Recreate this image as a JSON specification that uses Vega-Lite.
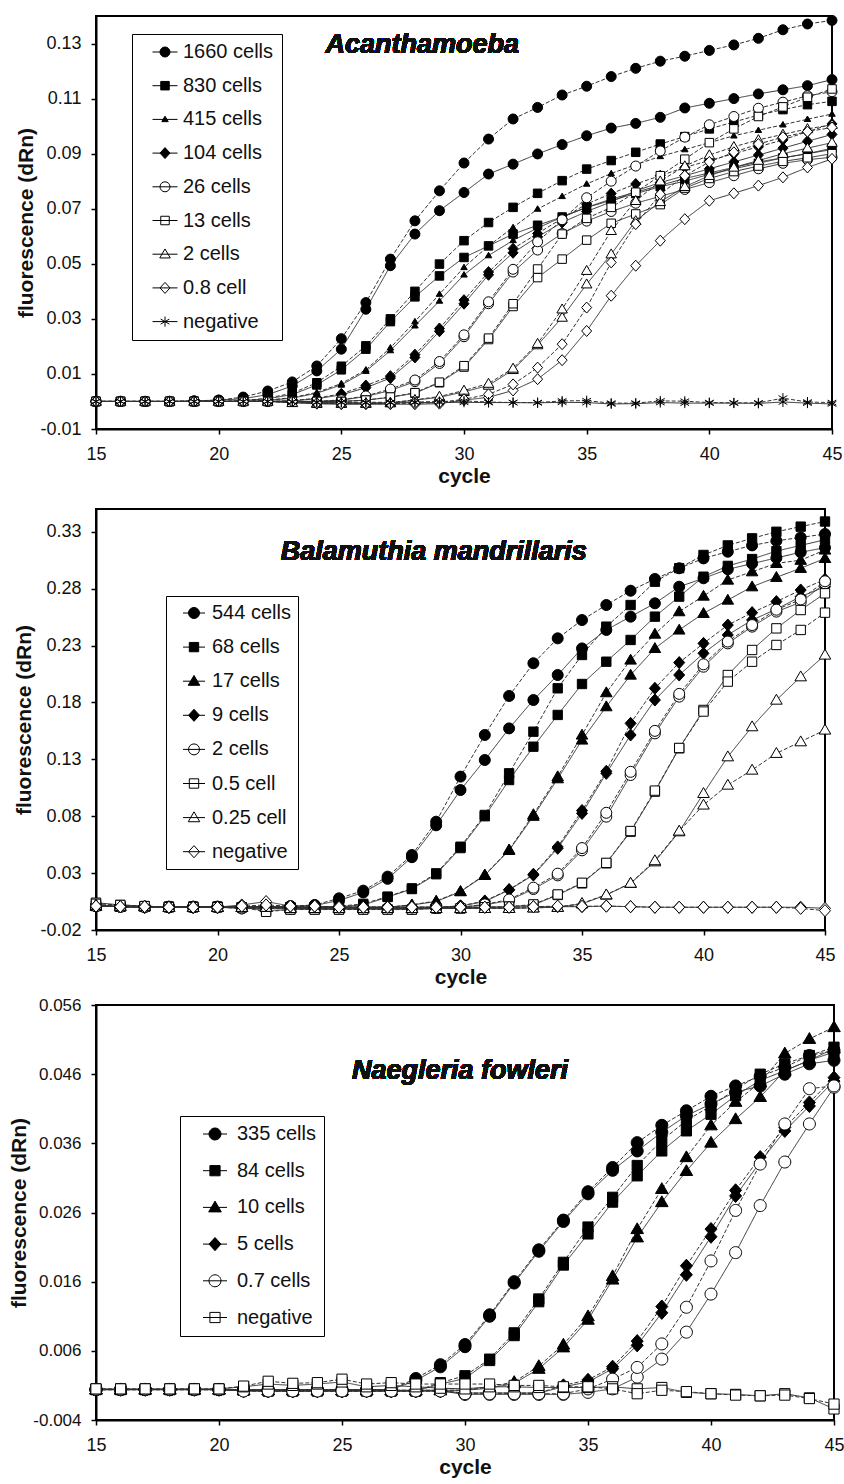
{
"$schema":"https://vega.github.io/schema/vega-lite/v6.json",
"background":"white",
"padding":{"left":7,"top":12,"right":0,"bottom":0},
"columns":1,
"align":"none",
"spacing":21,
"config":{
"font":"Liberation Sans",
"view":{"stroke":"black","strokeWidth":2},
"axis":{"grid":false,"domainColor":"black","domainWidth":2,"tickColor":"black","tickWidth":1.5,"tickSize":5,"labelFontSize":18,"labelColor":"#111","labelFont":"Liberation Sans","titleFont":"Liberation Sans","titleFontSize":21,"titleFontWeight":"bold","titleColor":"#111","labelFlush":false,"labelOverlap":false},
"axisX":{"labelPadding":11,"titlePadding":2},
"axisY":{"labelPadding":10,"titlePadding":3}
},
"resolve":{"scale":{"shape":"independent","fill":"independent","size":"independent"},"legend":{"shape":"independent","fill":"independent","size":"independent"}},
"datasets":{
"acanthamoeba":[
{"cells":"1660 cells","run":"A","cycle":15,"dRn":0},{"cells":"1660 cells","run":"A","cycle":16,"dRn":0},{"cells":"1660 cells","run":"A","cycle":17,"dRn":0},{"cells":"1660 cells","run":"A","cycle":18,"dRn":0},{"cells":"1660 cells","run":"A","cycle":19,"dRn":0.0002},{"cells":"1660 cells","run":"A","cycle":20,"dRn":0.0005},{"cells":"1660 cells","run":"A","cycle":21,"dRn":0.001},{"cells":"1660 cells","run":"A","cycle":22,"dRn":0.0025},{"cells":"1660 cells","run":"A","cycle":23,"dRn":0.0056},{"cells":"1660 cells","run":"A","cycle":24,"dRn":0.0111},{"cells":"1660 cells","run":"A","cycle":25,"dRn":0.019},{"cells":"1660 cells","run":"A","cycle":26,"dRn":0.0335},{"cells":"1660 cells","run":"A","cycle":27,"dRn":0.0493},{"cells":"1660 cells","run":"A","cycle":28,"dRn":0.0608},{"cells":"1660 cells","run":"A","cycle":29,"dRn":0.0693},{"cells":"1660 cells","run":"A","cycle":30,"dRn":0.0759},{"cells":"1660 cells","run":"A","cycle":31,"dRn":0.0826},{"cells":"1660 cells","run":"A","cycle":32,"dRn":0.0862},{"cells":"1660 cells","run":"A","cycle":33,"dRn":0.0899},{"cells":"1660 cells","run":"A","cycle":34,"dRn":0.0933},{"cells":"1660 cells","run":"A","cycle":35,"dRn":0.0965},{"cells":"1660 cells","run":"A","cycle":36,"dRn":0.0993},{"cells":"1660 cells","run":"A","cycle":37,"dRn":0.101},{"cells":"1660 cells","run":"A","cycle":38,"dRn":0.1032},{"cells":"1660 cells","run":"A","cycle":39,"dRn":0.1066},{"cells":"1660 cells","run":"A","cycle":40,"dRn":0.1083},{"cells":"1660 cells","run":"A","cycle":41,"dRn":0.11},{"cells":"1660 cells","run":"A","cycle":42,"dRn":0.1117},{"cells":"1660 cells","run":"A","cycle":43,"dRn":0.1132},{"cells":"1660 cells","run":"A","cycle":44,"dRn":0.1147},{"cells":"1660 cells","run":"A","cycle":45,"dRn":0.1169},
{"cells":"1660 cells","run":"B","cycle":15,"dRn":0},{"cells":"1660 cells","run":"B","cycle":16,"dRn":0},{"cells":"1660 cells","run":"B","cycle":17,"dRn":0},{"cells":"1660 cells","run":"B","cycle":18,"dRn":0},{"cells":"1660 cells","run":"B","cycle":19,"dRn":0.0002},{"cells":"1660 cells","run":"B","cycle":20,"dRn":0.0005},{"cells":"1660 cells","run":"B","cycle":21,"dRn":0.0016},{"cells":"1660 cells","run":"B","cycle":22,"dRn":0.0038},{"cells":"1660 cells","run":"B","cycle":23,"dRn":0.0071},{"cells":"1660 cells","run":"B","cycle":24,"dRn":0.0129},{"cells":"1660 cells","run":"B","cycle":25,"dRn":0.0228},{"cells":"1660 cells","run":"B","cycle":26,"dRn":0.0359},{"cells":"1660 cells","run":"B","cycle":27,"dRn":0.0517},{"cells":"1660 cells","run":"B","cycle":28,"dRn":0.0656},{"cells":"1660 cells","run":"B","cycle":29,"dRn":0.0765},{"cells":"1660 cells","run":"B","cycle":30,"dRn":0.0866},{"cells":"1660 cells","run":"B","cycle":31,"dRn":0.0953},{"cells":"1660 cells","run":"B","cycle":32,"dRn":0.1026},{"cells":"1660 cells","run":"B","cycle":33,"dRn":0.1068},{"cells":"1660 cells","run":"B","cycle":34,"dRn":0.1113},{"cells":"1660 cells","run":"B","cycle":35,"dRn":0.1145},{"cells":"1660 cells","run":"B","cycle":36,"dRn":0.118},{"cells":"1660 cells","run":"B","cycle":37,"dRn":0.121},{"cells":"1660 cells","run":"B","cycle":38,"dRn":0.1236},{"cells":"1660 cells","run":"B","cycle":39,"dRn":0.1254},{"cells":"1660 cells","run":"B","cycle":40,"dRn":0.1275},{"cells":"1660 cells","run":"B","cycle":41,"dRn":0.1295},{"cells":"1660 cells","run":"B","cycle":42,"dRn":0.1319},{"cells":"1660 cells","run":"B","cycle":43,"dRn":0.135},{"cells":"1660 cells","run":"B","cycle":44,"dRn":0.1371},{"cells":"1660 cells","run":"B","cycle":45,"dRn":0.1384},
{"cells":"830 cells","run":"A","cycle":15,"dRn":0},{"cells":"830 cells","run":"A","cycle":16,"dRn":0},{"cells":"830 cells","run":"A","cycle":17,"dRn":0},{"cells":"830 cells","run":"A","cycle":18,"dRn":0},{"cells":"830 cells","run":"A","cycle":19,"dRn":0},{"cells":"830 cells","run":"A","cycle":20,"dRn":0},{"cells":"830 cells","run":"A","cycle":21,"dRn":0.0003},{"cells":"830 cells","run":"A","cycle":22,"dRn":0.001},{"cells":"830 cells","run":"A","cycle":23,"dRn":0.0025},{"cells":"830 cells","run":"A","cycle":24,"dRn":0.006},{"cells":"830 cells","run":"A","cycle":25,"dRn":0.0115},{"cells":"830 cells","run":"A","cycle":26,"dRn":0.019},{"cells":"830 cells","run":"A","cycle":27,"dRn":0.029},{"cells":"830 cells","run":"A","cycle":28,"dRn":0.038},{"cells":"830 cells","run":"A","cycle":29,"dRn":0.0456},{"cells":"830 cells","run":"A","cycle":30,"dRn":0.0523},{"cells":"830 cells","run":"A","cycle":31,"dRn":0.0565},{"cells":"830 cells","run":"A","cycle":32,"dRn":0.0608},{"cells":"830 cells","run":"A","cycle":33,"dRn":0.064},{"cells":"830 cells","run":"A","cycle":34,"dRn":0.067},{"cells":"830 cells","run":"A","cycle":35,"dRn":0.0705},{"cells":"830 cells","run":"A","cycle":36,"dRn":0.073},{"cells":"830 cells","run":"A","cycle":37,"dRn":0.0755},{"cells":"830 cells","run":"A","cycle":38,"dRn":0.078},{"cells":"830 cells","run":"A","cycle":39,"dRn":0.08},{"cells":"830 cells","run":"A","cycle":40,"dRn":0.0825},{"cells":"830 cells","run":"A","cycle":41,"dRn":0.0845},{"cells":"830 cells","run":"A","cycle":42,"dRn":0.0865},{"cells":"830 cells","run":"A","cycle":43,"dRn":0.0885},{"cells":"830 cells","run":"A","cycle":44,"dRn":0.09},{"cells":"830 cells","run":"A","cycle":45,"dRn":0.092},
{"cells":"830 cells","run":"B","cycle":15,"dRn":0},{"cells":"830 cells","run":"B","cycle":16,"dRn":0},{"cells":"830 cells","run":"B","cycle":17,"dRn":0},{"cells":"830 cells","run":"B","cycle":18,"dRn":0},{"cells":"830 cells","run":"B","cycle":19,"dRn":0},{"cells":"830 cells","run":"B","cycle":20,"dRn":0},{"cells":"830 cells","run":"B","cycle":21,"dRn":0.0003},{"cells":"830 cells","run":"B","cycle":22,"dRn":0.0012},{"cells":"830 cells","run":"B","cycle":23,"dRn":0.003},{"cells":"830 cells","run":"B","cycle":24,"dRn":0.0068},{"cells":"830 cells","run":"B","cycle":25,"dRn":0.0128},{"cells":"830 cells","run":"B","cycle":26,"dRn":0.0202},{"cells":"830 cells","run":"B","cycle":27,"dRn":0.03},{"cells":"830 cells","run":"B","cycle":28,"dRn":0.04},{"cells":"830 cells","run":"B","cycle":29,"dRn":0.0499},{"cells":"830 cells","run":"B","cycle":30,"dRn":0.0584},{"cells":"830 cells","run":"B","cycle":31,"dRn":0.065},{"cells":"830 cells","run":"B","cycle":32,"dRn":0.0705},{"cells":"830 cells","run":"B","cycle":33,"dRn":0.0756},{"cells":"830 cells","run":"B","cycle":34,"dRn":0.0802},{"cells":"830 cells","run":"B","cycle":35,"dRn":0.0844},{"cells":"830 cells","run":"B","cycle":36,"dRn":0.0875},{"cells":"830 cells","run":"B","cycle":37,"dRn":0.0905},{"cells":"830 cells","run":"B","cycle":38,"dRn":0.0935},{"cells":"830 cells","run":"B","cycle":39,"dRn":0.0962},{"cells":"830 cells","run":"B","cycle":40,"dRn":0.099},{"cells":"830 cells","run":"B","cycle":41,"dRn":0.1015},{"cells":"830 cells","run":"B","cycle":42,"dRn":0.104},{"cells":"830 cells","run":"B","cycle":43,"dRn":0.106},{"cells":"830 cells","run":"B","cycle":44,"dRn":0.1078},{"cells":"830 cells","run":"B","cycle":45,"dRn":0.109},
{"cells":"415 cells","run":"A","cycle":15,"dRn":0},{"cells":"415 cells","run":"A","cycle":16,"dRn":0},{"cells":"415 cells","run":"A","cycle":17,"dRn":0},{"cells":"415 cells","run":"A","cycle":18,"dRn":0},{"cells":"415 cells","run":"A","cycle":19,"dRn":0},{"cells":"415 cells","run":"A","cycle":20,"dRn":0},{"cells":"415 cells","run":"A","cycle":21,"dRn":0},{"cells":"415 cells","run":"A","cycle":22,"dRn":0.0004},{"cells":"415 cells","run":"A","cycle":23,"dRn":0.0012},{"cells":"415 cells","run":"A","cycle":24,"dRn":0.003},{"cells":"415 cells","run":"A","cycle":25,"dRn":0.006},{"cells":"415 cells","run":"A","cycle":26,"dRn":0.011},{"cells":"415 cells","run":"A","cycle":27,"dRn":0.0185},{"cells":"415 cells","run":"A","cycle":28,"dRn":0.0275},{"cells":"415 cells","run":"A","cycle":29,"dRn":0.0365},{"cells":"415 cells","run":"A","cycle":30,"dRn":0.046},{"cells":"415 cells","run":"A","cycle":31,"dRn":0.053},{"cells":"415 cells","run":"A","cycle":32,"dRn":0.0585},{"cells":"415 cells","run":"A","cycle":33,"dRn":0.063},{"cells":"415 cells","run":"A","cycle":34,"dRn":0.067},{"cells":"415 cells","run":"A","cycle":35,"dRn":0.0705},{"cells":"415 cells","run":"A","cycle":36,"dRn":0.0735},{"cells":"415 cells","run":"A","cycle":37,"dRn":0.076},{"cells":"415 cells","run":"A","cycle":38,"dRn":0.0785},{"cells":"415 cells","run":"A","cycle":39,"dRn":0.081},{"cells":"415 cells","run":"A","cycle":40,"dRn":0.083},{"cells":"415 cells","run":"A","cycle":41,"dRn":0.085},{"cells":"415 cells","run":"A","cycle":42,"dRn":0.087},{"cells":"415 cells","run":"A","cycle":43,"dRn":0.0885},{"cells":"415 cells","run":"A","cycle":44,"dRn":0.09},{"cells":"415 cells","run":"A","cycle":45,"dRn":0.0915},
{"cells":"415 cells","run":"B","cycle":15,"dRn":0},{"cells":"415 cells","run":"B","cycle":16,"dRn":0},{"cells":"415 cells","run":"B","cycle":17,"dRn":0},{"cells":"415 cells","run":"B","cycle":18,"dRn":0},{"cells":"415 cells","run":"B","cycle":19,"dRn":0},{"cells":"415 cells","run":"B","cycle":20,"dRn":0},{"cells":"415 cells","run":"B","cycle":21,"dRn":0},{"cells":"415 cells","run":"B","cycle":22,"dRn":0.0005},{"cells":"415 cells","run":"B","cycle":23,"dRn":0.0014},{"cells":"415 cells","run":"B","cycle":24,"dRn":0.0033},{"cells":"415 cells","run":"B","cycle":25,"dRn":0.0065},{"cells":"415 cells","run":"B","cycle":26,"dRn":0.0115},{"cells":"415 cells","run":"B","cycle":27,"dRn":0.0195},{"cells":"415 cells","run":"B","cycle":28,"dRn":0.029},{"cells":"415 cells","run":"B","cycle":29,"dRn":0.039},{"cells":"415 cells","run":"B","cycle":30,"dRn":0.0487},{"cells":"415 cells","run":"B","cycle":31,"dRn":0.0565},{"cells":"415 cells","run":"B","cycle":32,"dRn":0.0632},{"cells":"415 cells","run":"B","cycle":33,"dRn":0.0699},{"cells":"415 cells","run":"B","cycle":34,"dRn":0.0745},{"cells":"415 cells","run":"B","cycle":35,"dRn":0.079},{"cells":"415 cells","run":"B","cycle":36,"dRn":0.0828},{"cells":"415 cells","run":"B","cycle":37,"dRn":0.086},{"cells":"415 cells","run":"B","cycle":38,"dRn":0.089},{"cells":"415 cells","run":"B","cycle":39,"dRn":0.0915},{"cells":"415 cells","run":"B","cycle":40,"dRn":0.094},{"cells":"415 cells","run":"B","cycle":41,"dRn":0.0965},{"cells":"415 cells","run":"B","cycle":42,"dRn":0.0985},{"cells":"415 cells","run":"B","cycle":43,"dRn":0.1005},{"cells":"415 cells","run":"B","cycle":44,"dRn":0.1025},{"cells":"415 cells","run":"B","cycle":45,"dRn":0.1044},
{"cells":"104 cells","run":"A","cycle":15,"dRn":0},{"cells":"104 cells","run":"A","cycle":16,"dRn":0},{"cells":"104 cells","run":"A","cycle":17,"dRn":0},{"cells":"104 cells","run":"A","cycle":18,"dRn":0},{"cells":"104 cells","run":"A","cycle":19,"dRn":0},{"cells":"104 cells","run":"A","cycle":20,"dRn":0},{"cells":"104 cells","run":"A","cycle":21,"dRn":0},{"cells":"104 cells","run":"A","cycle":22,"dRn":0},{"cells":"104 cells","run":"A","cycle":23,"dRn":0.0002},{"cells":"104 cells","run":"A","cycle":24,"dRn":0.001},{"cells":"104 cells","run":"A","cycle":25,"dRn":0.0024},{"cells":"104 cells","run":"A","cycle":26,"dRn":0.005},{"cells":"104 cells","run":"A","cycle":27,"dRn":0.0085},{"cells":"104 cells","run":"A","cycle":28,"dRn":0.016},{"cells":"104 cells","run":"A","cycle":29,"dRn":0.0255},{"cells":"104 cells","run":"A","cycle":30,"dRn":0.0355},{"cells":"104 cells","run":"A","cycle":31,"dRn":0.046},{"cells":"104 cells","run":"A","cycle":32,"dRn":0.054},{"cells":"104 cells","run":"A","cycle":33,"dRn":0.0598},{"cells":"104 cells","run":"A","cycle":34,"dRn":0.065},{"cells":"104 cells","run":"A","cycle":35,"dRn":0.069},{"cells":"104 cells","run":"A","cycle":36,"dRn":0.0725},{"cells":"104 cells","run":"A","cycle":37,"dRn":0.0765},{"cells":"104 cells","run":"A","cycle":38,"dRn":0.0795},{"cells":"104 cells","run":"A","cycle":39,"dRn":0.082},{"cells":"104 cells","run":"A","cycle":40,"dRn":0.0845},{"cells":"104 cells","run":"A","cycle":41,"dRn":0.087},{"cells":"104 cells","run":"A","cycle":42,"dRn":0.0895},{"cells":"104 cells","run":"A","cycle":43,"dRn":0.092},{"cells":"104 cells","run":"A","cycle":44,"dRn":0.0945},{"cells":"104 cells","run":"A","cycle":45,"dRn":0.097},
{"cells":"104 cells","run":"B","cycle":15,"dRn":0},{"cells":"104 cells","run":"B","cycle":16,"dRn":0},{"cells":"104 cells","run":"B","cycle":17,"dRn":0},{"cells":"104 cells","run":"B","cycle":18,"dRn":0},{"cells":"104 cells","run":"B","cycle":19,"dRn":0},{"cells":"104 cells","run":"B","cycle":20,"dRn":0},{"cells":"104 cells","run":"B","cycle":21,"dRn":0},{"cells":"104 cells","run":"B","cycle":22,"dRn":0},{"cells":"104 cells","run":"B","cycle":23,"dRn":0.0003},{"cells":"104 cells","run":"B","cycle":24,"dRn":0.0012},{"cells":"104 cells","run":"B","cycle":25,"dRn":0.0028},{"cells":"104 cells","run":"B","cycle":26,"dRn":0.0058},{"cells":"104 cells","run":"B","cycle":27,"dRn":0.0092},{"cells":"104 cells","run":"B","cycle":28,"dRn":0.017},{"cells":"104 cells","run":"B","cycle":29,"dRn":0.0265},{"cells":"104 cells","run":"B","cycle":30,"dRn":0.0368},{"cells":"104 cells","run":"B","cycle":31,"dRn":0.047},{"cells":"104 cells","run":"B","cycle":32,"dRn":0.0555},{"cells":"104 cells","run":"B","cycle":33,"dRn":0.061},{"cells":"104 cells","run":"B","cycle":34,"dRn":0.0665},{"cells":"104 cells","run":"B","cycle":35,"dRn":0.0717},{"cells":"104 cells","run":"B","cycle":36,"dRn":0.0755},{"cells":"104 cells","run":"B","cycle":37,"dRn":0.079},{"cells":"104 cells","run":"B","cycle":38,"dRn":0.082},{"cells":"104 cells","run":"B","cycle":39,"dRn":0.085},{"cells":"104 cells","run":"B","cycle":40,"dRn":0.0875},{"cells":"104 cells","run":"B","cycle":41,"dRn":0.09},{"cells":"104 cells","run":"B","cycle":42,"dRn":0.0925},{"cells":"104 cells","run":"B","cycle":43,"dRn":0.095},{"cells":"104 cells","run":"B","cycle":44,"dRn":0.098},{"cells":"104 cells","run":"B","cycle":45,"dRn":0.1008},
{"cells":"26 cells","run":"A","cycle":15,"dRn":0},{"cells":"26 cells","run":"A","cycle":16,"dRn":0},{"cells":"26 cells","run":"A","cycle":17,"dRn":0},{"cells":"26 cells","run":"A","cycle":18,"dRn":0},{"cells":"26 cells","run":"A","cycle":19,"dRn":0},{"cells":"26 cells","run":"A","cycle":20,"dRn":0},{"cells":"26 cells","run":"A","cycle":21,"dRn":0},{"cells":"26 cells","run":"A","cycle":22,"dRn":0},{"cells":"26 cells","run":"A","cycle":23,"dRn":0},{"cells":"26 cells","run":"A","cycle":24,"dRn":0},{"cells":"26 cells","run":"A","cycle":25,"dRn":0.0005},{"cells":"26 cells","run":"A","cycle":26,"dRn":0.0018},{"cells":"26 cells","run":"A","cycle":27,"dRn":0.004},{"cells":"26 cells","run":"A","cycle":28,"dRn":0.0072},{"cells":"26 cells","run":"A","cycle":29,"dRn":0.0138},{"cells":"26 cells","run":"A","cycle":30,"dRn":0.0235},{"cells":"26 cells","run":"A","cycle":31,"dRn":0.0355},{"cells":"26 cells","run":"A","cycle":32,"dRn":0.047},{"cells":"26 cells","run":"A","cycle":33,"dRn":0.055},{"cells":"26 cells","run":"A","cycle":34,"dRn":0.061},{"cells":"26 cells","run":"A","cycle":35,"dRn":0.0655},{"cells":"26 cells","run":"A","cycle":36,"dRn":0.069},{"cells":"26 cells","run":"A","cycle":37,"dRn":0.072},{"cells":"26 cells","run":"A","cycle":38,"dRn":0.0745},{"cells":"26 cells","run":"A","cycle":39,"dRn":0.077},{"cells":"26 cells","run":"A","cycle":40,"dRn":0.0795},{"cells":"26 cells","run":"A","cycle":41,"dRn":0.082},{"cells":"26 cells","run":"A","cycle":42,"dRn":0.0845},{"cells":"26 cells","run":"A","cycle":43,"dRn":0.0865},{"cells":"26 cells","run":"A","cycle":44,"dRn":0.0878},{"cells":"26 cells","run":"A","cycle":45,"dRn":0.0887},
{"cells":"26 cells","run":"B","cycle":15,"dRn":0},{"cells":"26 cells","run":"B","cycle":16,"dRn":0},{"cells":"26 cells","run":"B","cycle":17,"dRn":0},{"cells":"26 cells","run":"B","cycle":18,"dRn":0},{"cells":"26 cells","run":"B","cycle":19,"dRn":0},{"cells":"26 cells","run":"B","cycle":20,"dRn":0},{"cells":"26 cells","run":"B","cycle":21,"dRn":0},{"cells":"26 cells","run":"B","cycle":22,"dRn":0},{"cells":"26 cells","run":"B","cycle":23,"dRn":0},{"cells":"26 cells","run":"B","cycle":24,"dRn":0},{"cells":"26 cells","run":"B","cycle":25,"dRn":0.0006},{"cells":"26 cells","run":"B","cycle":26,"dRn":0.002},{"cells":"26 cells","run":"B","cycle":27,"dRn":0.0045},{"cells":"26 cells","run":"B","cycle":28,"dRn":0.0078},{"cells":"26 cells","run":"B","cycle":29,"dRn":0.0145},{"cells":"26 cells","run":"B","cycle":30,"dRn":0.0242},{"cells":"26 cells","run":"B","cycle":31,"dRn":0.0362},{"cells":"26 cells","run":"B","cycle":32,"dRn":0.048},{"cells":"26 cells","run":"B","cycle":33,"dRn":0.058},{"cells":"26 cells","run":"B","cycle":34,"dRn":0.066},{"cells":"26 cells","run":"B","cycle":35,"dRn":0.074},{"cells":"26 cells","run":"B","cycle":36,"dRn":0.08},{"cells":"26 cells","run":"B","cycle":37,"dRn":0.0855},{"cells":"26 cells","run":"B","cycle":38,"dRn":0.091},{"cells":"26 cells","run":"B","cycle":39,"dRn":0.096},{"cells":"26 cells","run":"B","cycle":40,"dRn":0.1005},{"cells":"26 cells","run":"B","cycle":41,"dRn":0.1035},{"cells":"26 cells","run":"B","cycle":42,"dRn":0.1065},{"cells":"26 cells","run":"B","cycle":43,"dRn":0.1087},{"cells":"26 cells","run":"B","cycle":44,"dRn":0.111},{"cells":"26 cells","run":"B","cycle":45,"dRn":0.1125},
{"cells":"13 cells","run":"A","cycle":15,"dRn":0},{"cells":"13 cells","run":"A","cycle":16,"dRn":0},{"cells":"13 cells","run":"A","cycle":17,"dRn":0},{"cells":"13 cells","run":"A","cycle":18,"dRn":0},{"cells":"13 cells","run":"A","cycle":19,"dRn":0},{"cells":"13 cells","run":"A","cycle":20,"dRn":0},{"cells":"13 cells","run":"A","cycle":21,"dRn":0},{"cells":"13 cells","run":"A","cycle":22,"dRn":0},{"cells":"13 cells","run":"A","cycle":23,"dRn":0},{"cells":"13 cells","run":"A","cycle":24,"dRn":0},{"cells":"13 cells","run":"A","cycle":25,"dRn":0},{"cells":"13 cells","run":"A","cycle":26,"dRn":0.0005},{"cells":"13 cells","run":"A","cycle":27,"dRn":0.0015},{"cells":"13 cells","run":"A","cycle":28,"dRn":0.003},{"cells":"13 cells","run":"A","cycle":29,"dRn":0.0068},{"cells":"13 cells","run":"A","cycle":30,"dRn":0.0125},{"cells":"13 cells","run":"A","cycle":31,"dRn":0.0225},{"cells":"13 cells","run":"A","cycle":32,"dRn":0.0345},{"cells":"13 cells","run":"A","cycle":33,"dRn":0.045},{"cells":"13 cells","run":"A","cycle":34,"dRn":0.0517},{"cells":"13 cells","run":"A","cycle":35,"dRn":0.0586},{"cells":"13 cells","run":"A","cycle":36,"dRn":0.0647},{"cells":"13 cells","run":"A","cycle":37,"dRn":0.0681},{"cells":"13 cells","run":"A","cycle":38,"dRn":0.0715},{"cells":"13 cells","run":"A","cycle":39,"dRn":0.0775},{"cells":"13 cells","run":"A","cycle":40,"dRn":0.081},{"cells":"13 cells","run":"A","cycle":41,"dRn":0.0835},{"cells":"13 cells","run":"A","cycle":42,"dRn":0.0855},{"cells":"13 cells","run":"A","cycle":43,"dRn":0.0872},{"cells":"13 cells","run":"A","cycle":44,"dRn":0.0885},{"cells":"13 cells","run":"A","cycle":45,"dRn":0.09},
{"cells":"13 cells","run":"B","cycle":15,"dRn":0},{"cells":"13 cells","run":"B","cycle":16,"dRn":0},{"cells":"13 cells","run":"B","cycle":17,"dRn":0},{"cells":"13 cells","run":"B","cycle":18,"dRn":0},{"cells":"13 cells","run":"B","cycle":19,"dRn":0},{"cells":"13 cells","run":"B","cycle":20,"dRn":0},{"cells":"13 cells","run":"B","cycle":21,"dRn":0},{"cells":"13 cells","run":"B","cycle":22,"dRn":0},{"cells":"13 cells","run":"B","cycle":23,"dRn":0},{"cells":"13 cells","run":"B","cycle":24,"dRn":0},{"cells":"13 cells","run":"B","cycle":25,"dRn":0},{"cells":"13 cells","run":"B","cycle":26,"dRn":0.0005},{"cells":"13 cells","run":"B","cycle":27,"dRn":0.0016},{"cells":"13 cells","run":"B","cycle":28,"dRn":0.0032},{"cells":"13 cells","run":"B","cycle":29,"dRn":0.007},{"cells":"13 cells","run":"B","cycle":30,"dRn":0.013},{"cells":"13 cells","run":"B","cycle":31,"dRn":0.023},{"cells":"13 cells","run":"B","cycle":32,"dRn":0.0355},{"cells":"13 cells","run":"B","cycle":33,"dRn":0.0481},{"cells":"13 cells","run":"B","cycle":34,"dRn":0.0608},{"cells":"13 cells","run":"B","cycle":35,"dRn":0.0665},{"cells":"13 cells","run":"B","cycle":36,"dRn":0.0705},{"cells":"13 cells","run":"B","cycle":37,"dRn":0.076},{"cells":"13 cells","run":"B","cycle":38,"dRn":0.082},{"cells":"13 cells","run":"B","cycle":39,"dRn":0.088},{"cells":"13 cells","run":"B","cycle":40,"dRn":0.094},{"cells":"13 cells","run":"B","cycle":41,"dRn":0.099},{"cells":"13 cells","run":"B","cycle":42,"dRn":0.1035},{"cells":"13 cells","run":"B","cycle":43,"dRn":0.107},{"cells":"13 cells","run":"B","cycle":44,"dRn":0.1105},{"cells":"13 cells","run":"B","cycle":45,"dRn":0.1135},
{"cells":"2 cells","run":"A","cycle":15,"dRn":0},{"cells":"2 cells","run":"A","cycle":16,"dRn":0},{"cells":"2 cells","run":"A","cycle":17,"dRn":0},{"cells":"2 cells","run":"A","cycle":18,"dRn":0},{"cells":"2 cells","run":"A","cycle":19,"dRn":0},{"cells":"2 cells","run":"A","cycle":20,"dRn":0},{"cells":"2 cells","run":"A","cycle":21,"dRn":0},{"cells":"2 cells","run":"A","cycle":22,"dRn":0},{"cells":"2 cells","run":"A","cycle":23,"dRn":-0.0005},{"cells":"2 cells","run":"A","cycle":24,"dRn":-0.0008},{"cells":"2 cells","run":"A","cycle":25,"dRn":-0.0008},{"cells":"2 cells","run":"A","cycle":26,"dRn":-0.0008},{"cells":"2 cells","run":"A","cycle":27,"dRn":-0.0006},{"cells":"2 cells","run":"A","cycle":28,"dRn":0.0005},{"cells":"2 cells","run":"A","cycle":29,"dRn":0.0015},{"cells":"2 cells","run":"A","cycle":30,"dRn":0.0035},{"cells":"2 cells","run":"A","cycle":31,"dRn":0.0058},{"cells":"2 cells","run":"A","cycle":32,"dRn":0.0115},{"cells":"2 cells","run":"A","cycle":33,"dRn":0.0205},{"cells":"2 cells","run":"A","cycle":34,"dRn":0.0305},{"cells":"2 cells","run":"A","cycle":35,"dRn":0.0426},{"cells":"2 cells","run":"A","cycle":36,"dRn":0.0535},{"cells":"2 cells","run":"A","cycle":37,"dRn":0.0656},{"cells":"2 cells","run":"A","cycle":38,"dRn":0.0725},{"cells":"2 cells","run":"A","cycle":39,"dRn":0.078},{"cells":"2 cells","run":"A","cycle":40,"dRn":0.082},{"cells":"2 cells","run":"A","cycle":41,"dRn":0.085},{"cells":"2 cells","run":"A","cycle":42,"dRn":0.0875},{"cells":"2 cells","run":"A","cycle":43,"dRn":0.09},{"cells":"2 cells","run":"A","cycle":44,"dRn":0.092},{"cells":"2 cells","run":"A","cycle":45,"dRn":0.094},
{"cells":"2 cells","run":"B","cycle":15,"dRn":0},{"cells":"2 cells","run":"B","cycle":16,"dRn":0},{"cells":"2 cells","run":"B","cycle":17,"dRn":0},{"cells":"2 cells","run":"B","cycle":18,"dRn":0},{"cells":"2 cells","run":"B","cycle":19,"dRn":0},{"cells":"2 cells","run":"B","cycle":20,"dRn":0},{"cells":"2 cells","run":"B","cycle":21,"dRn":0},{"cells":"2 cells","run":"B","cycle":22,"dRn":0},{"cells":"2 cells","run":"B","cycle":23,"dRn":-0.0004},{"cells":"2 cells","run":"B","cycle":24,"dRn":-0.0006},{"cells":"2 cells","run":"B","cycle":25,"dRn":-0.0006},{"cells":"2 cells","run":"B","cycle":26,"dRn":-0.0006},{"cells":"2 cells","run":"B","cycle":27,"dRn":-0.0004},{"cells":"2 cells","run":"B","cycle":28,"dRn":0.0006},{"cells":"2 cells","run":"B","cycle":29,"dRn":0.0018},{"cells":"2 cells","run":"B","cycle":30,"dRn":0.004},{"cells":"2 cells","run":"B","cycle":31,"dRn":0.0065},{"cells":"2 cells","run":"B","cycle":32,"dRn":0.012},{"cells":"2 cells","run":"B","cycle":33,"dRn":0.021},{"cells":"2 cells","run":"B","cycle":34,"dRn":0.0335},{"cells":"2 cells","run":"B","cycle":35,"dRn":0.0475},{"cells":"2 cells","run":"B","cycle":36,"dRn":0.062},{"cells":"2 cells","run":"B","cycle":37,"dRn":0.0729},{"cells":"2 cells","run":"B","cycle":38,"dRn":0.08},{"cells":"2 cells","run":"B","cycle":39,"dRn":0.0855},{"cells":"2 cells","run":"B","cycle":40,"dRn":0.0895},{"cells":"2 cells","run":"B","cycle":41,"dRn":0.0925},{"cells":"2 cells","run":"B","cycle":42,"dRn":0.095},{"cells":"2 cells","run":"B","cycle":43,"dRn":0.097},{"cells":"2 cells","run":"B","cycle":44,"dRn":0.099},{"cells":"2 cells","run":"B","cycle":45,"dRn":0.1005},
{"cells":"0.8 cell","run":"A","cycle":15,"dRn":0},{"cells":"0.8 cell","run":"A","cycle":16,"dRn":0},{"cells":"0.8 cell","run":"A","cycle":17,"dRn":0},{"cells":"0.8 cell","run":"A","cycle":18,"dRn":0},{"cells":"0.8 cell","run":"A","cycle":19,"dRn":0},{"cells":"0.8 cell","run":"A","cycle":20,"dRn":0},{"cells":"0.8 cell","run":"A","cycle":21,"dRn":0},{"cells":"0.8 cell","run":"A","cycle":22,"dRn":0},{"cells":"0.8 cell","run":"A","cycle":23,"dRn":0},{"cells":"0.8 cell","run":"A","cycle":24,"dRn":-0.0008},{"cells":"0.8 cell","run":"A","cycle":25,"dRn":-0.001},{"cells":"0.8 cell","run":"A","cycle":26,"dRn":-0.001},{"cells":"0.8 cell","run":"A","cycle":27,"dRn":-0.001},{"cells":"0.8 cell","run":"A","cycle":28,"dRn":-0.001},{"cells":"0.8 cell","run":"A","cycle":29,"dRn":-0.0008},{"cells":"0.8 cell","run":"A","cycle":30,"dRn":0.0005},{"cells":"0.8 cell","run":"A","cycle":31,"dRn":0.0015},{"cells":"0.8 cell","run":"A","cycle":32,"dRn":0.004},{"cells":"0.8 cell","run":"A","cycle":33,"dRn":0.0081},{"cells":"0.8 cell","run":"A","cycle":34,"dRn":0.015},{"cells":"0.8 cell","run":"A","cycle":35,"dRn":0.0256},{"cells":"0.8 cell","run":"A","cycle":36,"dRn":0.0384},{"cells":"0.8 cell","run":"A","cycle":37,"dRn":0.0493},{"cells":"0.8 cell","run":"A","cycle":38,"dRn":0.0584},{"cells":"0.8 cell","run":"A","cycle":39,"dRn":0.0662},{"cells":"0.8 cell","run":"A","cycle":40,"dRn":0.0729},{"cells":"0.8 cell","run":"A","cycle":41,"dRn":0.0756},{"cells":"0.8 cell","run":"A","cycle":42,"dRn":0.0784},{"cells":"0.8 cell","run":"A","cycle":43,"dRn":0.0814},{"cells":"0.8 cell","run":"A","cycle":44,"dRn":0.085},{"cells":"0.8 cell","run":"A","cycle":45,"dRn":0.0881},
{"cells":"0.8 cell","run":"B","cycle":15,"dRn":0},{"cells":"0.8 cell","run":"B","cycle":16,"dRn":0},{"cells":"0.8 cell","run":"B","cycle":17,"dRn":0},{"cells":"0.8 cell","run":"B","cycle":18,"dRn":0},{"cells":"0.8 cell","run":"B","cycle":19,"dRn":0},{"cells":"0.8 cell","run":"B","cycle":20,"dRn":0},{"cells":"0.8 cell","run":"B","cycle":21,"dRn":0},{"cells":"0.8 cell","run":"B","cycle":22,"dRn":0},{"cells":"0.8 cell","run":"B","cycle":23,"dRn":0},{"cells":"0.8 cell","run":"B","cycle":24,"dRn":-0.0006},{"cells":"0.8 cell","run":"B","cycle":25,"dRn":-0.0008},{"cells":"0.8 cell","run":"B","cycle":26,"dRn":-0.0008},{"cells":"0.8 cell","run":"B","cycle":27,"dRn":-0.0008},{"cells":"0.8 cell","run":"B","cycle":28,"dRn":-0.0006},{"cells":"0.8 cell","run":"B","cycle":29,"dRn":-0.0004},{"cells":"0.8 cell","run":"B","cycle":30,"dRn":0.0008},{"cells":"0.8 cell","run":"B","cycle":31,"dRn":0.0026},{"cells":"0.8 cell","run":"B","cycle":32,"dRn":0.0062},{"cells":"0.8 cell","run":"B","cycle":33,"dRn":0.0123},{"cells":"0.8 cell","run":"B","cycle":34,"dRn":0.0208},{"cells":"0.8 cell","run":"B","cycle":35,"dRn":0.0341},{"cells":"0.8 cell","run":"B","cycle":36,"dRn":0.0505},{"cells":"0.8 cell","run":"B","cycle":37,"dRn":0.0644},{"cells":"0.8 cell","run":"B","cycle":38,"dRn":0.0753},{"cells":"0.8 cell","run":"B","cycle":39,"dRn":0.082},{"cells":"0.8 cell","run":"B","cycle":40,"dRn":0.087},{"cells":"0.8 cell","run":"B","cycle":41,"dRn":0.0905},{"cells":"0.8 cell","run":"B","cycle":42,"dRn":0.0935},{"cells":"0.8 cell","run":"B","cycle":43,"dRn":0.096},{"cells":"0.8 cell","run":"B","cycle":44,"dRn":0.098},{"cells":"0.8 cell","run":"B","cycle":45,"dRn":0.0995},
{"cells":"negative","run":"A","cycle":15,"dRn":0},{"cells":"negative","run":"A","cycle":16,"dRn":0},{"cells":"negative","run":"A","cycle":17,"dRn":0},{"cells":"negative","run":"A","cycle":18,"dRn":0},{"cells":"negative","run":"A","cycle":19,"dRn":0},{"cells":"negative","run":"A","cycle":20,"dRn":0},{"cells":"negative","run":"A","cycle":21,"dRn":0},{"cells":"negative","run":"A","cycle":22,"dRn":0},{"cells":"negative","run":"A","cycle":23,"dRn":-0.0002},{"cells":"negative","run":"A","cycle":24,"dRn":-0.0004},{"cells":"negative","run":"A","cycle":25,"dRn":-0.0004},{"cells":"negative","run":"A","cycle":26,"dRn":-0.0005},{"cells":"negative","run":"A","cycle":27,"dRn":-0.0005},{"cells":"negative","run":"A","cycle":28,"dRn":-0.0004},{"cells":"negative","run":"A","cycle":29,"dRn":-0.0004},{"cells":"negative","run":"A","cycle":30,"dRn":-0.0003},{"cells":"negative","run":"A","cycle":31,"dRn":-0.0004},{"cells":"negative","run":"A","cycle":32,"dRn":-0.0004},{"cells":"negative","run":"A","cycle":33,"dRn":-0.0005},{"cells":"negative","run":"A","cycle":34,"dRn":-0.0003},{"cells":"negative","run":"A","cycle":35,"dRn":-0.0004},{"cells":"negative","run":"A","cycle":36,"dRn":-0.0009},{"cells":"negative","run":"A","cycle":37,"dRn":-0.0008},{"cells":"negative","run":"A","cycle":38,"dRn":-0.0004},{"cells":"negative","run":"A","cycle":39,"dRn":-0.0006},{"cells":"negative","run":"A","cycle":40,"dRn":-0.0006},{"cells":"negative","run":"A","cycle":41,"dRn":-0.0006},{"cells":"negative","run":"A","cycle":42,"dRn":-0.0007},{"cells":"negative","run":"A","cycle":43,"dRn":-0.0002},{"cells":"negative","run":"A","cycle":44,"dRn":-0.0006},{"cells":"negative","run":"A","cycle":45,"dRn":-0.0009},
{"cells":"negative","run":"B","cycle":15,"dRn":0},{"cells":"negative","run":"B","cycle":16,"dRn":0},{"cells":"negative","run":"B","cycle":17,"dRn":0},{"cells":"negative","run":"B","cycle":18,"dRn":0},{"cells":"negative","run":"B","cycle":19,"dRn":0},{"cells":"negative","run":"B","cycle":20,"dRn":0},{"cells":"negative","run":"B","cycle":21,"dRn":0},{"cells":"negative","run":"B","cycle":22,"dRn":0},{"cells":"negative","run":"B","cycle":23,"dRn":-0.0001},{"cells":"negative","run":"B","cycle":24,"dRn":-0.0002},{"cells":"negative","run":"B","cycle":25,"dRn":-0.0002},{"cells":"negative","run":"B","cycle":26,"dRn":-0.0003},{"cells":"negative","run":"B","cycle":27,"dRn":-0.0003},{"cells":"negative","run":"B","cycle":28,"dRn":-0.0002},{"cells":"negative","run":"B","cycle":29,"dRn":0},{"cells":"negative","run":"B","cycle":30,"dRn":0.0002},{"cells":"negative","run":"B","cycle":31,"dRn":-0.0002},{"cells":"negative","run":"B","cycle":32,"dRn":-0.0004},{"cells":"negative","run":"B","cycle":33,"dRn":-0.0004},{"cells":"negative","run":"B","cycle":34,"dRn":0.0002},{"cells":"negative","run":"B","cycle":35,"dRn":0.0003},{"cells":"negative","run":"B","cycle":36,"dRn":-0.0006},{"cells":"negative","run":"B","cycle":37,"dRn":-0.0006},{"cells":"negative","run":"B","cycle":38,"dRn":0.0002},{"cells":"negative","run":"B","cycle":39,"dRn":0.0001},{"cells":"negative","run":"B","cycle":40,"dRn":-0.0004},{"cells":"negative","run":"B","cycle":41,"dRn":-0.0005},{"cells":"negative","run":"B","cycle":42,"dRn":-0.0005},{"cells":"negative","run":"B","cycle":43,"dRn":0.0012},{"cells":"negative","run":"B","cycle":44,"dRn":-0.0002},{"cells":"negative","run":"B","cycle":45,"dRn":-0.0004}
],
"balamuthia":[
{"cells":"544 cells","run":"A","cycle":15,"dRn":0.001},{"cells":"544 cells","run":"A","cycle":16,"dRn":0.0005},{"cells":"544 cells","run":"A","cycle":17,"dRn":0.0005},{"cells":"544 cells","run":"A","cycle":18,"dRn":0.0005},{"cells":"544 cells","run":"A","cycle":19,"dRn":0.0005},{"cells":"544 cells","run":"A","cycle":20,"dRn":0.0005},{"cells":"544 cells","run":"A","cycle":21,"dRn":0.0005},{"cells":"544 cells","run":"A","cycle":22,"dRn":0.0005},{"cells":"544 cells","run":"A","cycle":23,"dRn":0.0008},{"cells":"544 cells","run":"A","cycle":24,"dRn":0.0015},{"cells":"544 cells","run":"A","cycle":25,"dRn":0.006},{"cells":"544 cells","run":"A","cycle":26,"dRn":0.013},{"cells":"544 cells","run":"A","cycle":27,"dRn":0.025},{"cells":"544 cells","run":"A","cycle":28,"dRn":0.044},{"cells":"544 cells","run":"A","cycle":29,"dRn":0.072},{"cells":"544 cells","run":"A","cycle":30,"dRn":0.103},{"cells":"544 cells","run":"A","cycle":31,"dRn":0.1294},{"cells":"544 cells","run":"A","cycle":32,"dRn":0.1572},{"cells":"544 cells","run":"A","cycle":33,"dRn":0.1821},{"cells":"544 cells","run":"A","cycle":34,"dRn":0.2041},{"cells":"544 cells","run":"A","cycle":35,"dRn":0.2275},{"cells":"544 cells","run":"A","cycle":36,"dRn":0.2437},{"cells":"544 cells","run":"A","cycle":37,"dRn":0.2554},{"cells":"544 cells","run":"A","cycle":38,"dRn":0.2671},{"cells":"544 cells","run":"A","cycle":39,"dRn":0.2817},{"cells":"544 cells","run":"A","cycle":40,"dRn":0.2891},{"cells":"544 cells","run":"A","cycle":41,"dRn":0.297},{"cells":"544 cells","run":"A","cycle":42,"dRn":0.302},{"cells":"544 cells","run":"A","cycle":43,"dRn":0.307},{"cells":"544 cells","run":"A","cycle":44,"dRn":0.312},{"cells":"544 cells","run":"A","cycle":45,"dRn":0.316},
{"cells":"544 cells","run":"B","cycle":15,"dRn":0.001},{"cells":"544 cells","run":"B","cycle":16,"dRn":0.0005},{"cells":"544 cells","run":"B","cycle":17,"dRn":0.0005},{"cells":"544 cells","run":"B","cycle":18,"dRn":0.0005},{"cells":"544 cells","run":"B","cycle":19,"dRn":0.0005},{"cells":"544 cells","run":"B","cycle":20,"dRn":0.0005},{"cells":"544 cells","run":"B","cycle":21,"dRn":0.0005},{"cells":"544 cells","run":"B","cycle":22,"dRn":0.0005},{"cells":"544 cells","run":"B","cycle":23,"dRn":0.001},{"cells":"544 cells","run":"B","cycle":24,"dRn":0.002},{"cells":"544 cells","run":"B","cycle":25,"dRn":0.0078},{"cells":"544 cells","run":"B","cycle":26,"dRn":0.0146},{"cells":"544 cells","run":"B","cycle":27,"dRn":0.0269},{"cells":"544 cells","run":"B","cycle":28,"dRn":0.0459},{"cells":"544 cells","run":"B","cycle":29,"dRn":0.0752},{"cells":"544 cells","run":"B","cycle":30,"dRn":0.1148},{"cells":"544 cells","run":"B","cycle":31,"dRn":0.1514},{"cells":"544 cells","run":"B","cycle":32,"dRn":0.1857},{"cells":"544 cells","run":"B","cycle":33,"dRn":0.2144},{"cells":"544 cells","run":"B","cycle":34,"dRn":0.2363},{"cells":"544 cells","run":"B","cycle":35,"dRn":0.2524},{"cells":"544 cells","run":"B","cycle":36,"dRn":0.2656},{"cells":"544 cells","run":"B","cycle":37,"dRn":0.2782},{"cells":"544 cells","run":"B","cycle":38,"dRn":0.2885},{"cells":"544 cells","run":"B","cycle":39,"dRn":0.2979},{"cells":"544 cells","run":"B","cycle":40,"dRn":0.3066},{"cells":"544 cells","run":"B","cycle":41,"dRn":0.3125},{"cells":"544 cells","run":"B","cycle":42,"dRn":0.318},{"cells":"544 cells","run":"B","cycle":43,"dRn":0.322},{"cells":"544 cells","run":"B","cycle":44,"dRn":0.325},{"cells":"544 cells","run":"B","cycle":45,"dRn":0.328},
{"cells":"68 cells","run":"A","cycle":15,"dRn":0.001},{"cells":"68 cells","run":"A","cycle":16,"dRn":0.0005},{"cells":"68 cells","run":"A","cycle":17,"dRn":0.0005},{"cells":"68 cells","run":"A","cycle":18,"dRn":0.0005},{"cells":"68 cells","run":"A","cycle":19,"dRn":0.0005},{"cells":"68 cells","run":"A","cycle":20,"dRn":0.0005},{"cells":"68 cells","run":"A","cycle":21,"dRn":0},{"cells":"68 cells","run":"A","cycle":22,"dRn":0},{"cells":"68 cells","run":"A","cycle":23,"dRn":0},{"cells":"68 cells","run":"A","cycle":24,"dRn":0},{"cells":"68 cells","run":"A","cycle":25,"dRn":0.0005},{"cells":"68 cells","run":"A","cycle":26,"dRn":0.002},{"cells":"68 cells","run":"A","cycle":27,"dRn":0.009},{"cells":"68 cells","run":"A","cycle":28,"dRn":0.016},{"cells":"68 cells","run":"A","cycle":29,"dRn":0.029},{"cells":"68 cells","run":"A","cycle":30,"dRn":0.052},{"cells":"68 cells","run":"A","cycle":31,"dRn":0.08},{"cells":"68 cells","run":"A","cycle":32,"dRn":0.1118},{"cells":"68 cells","run":"A","cycle":33,"dRn":0.1411},{"cells":"68 cells","run":"A","cycle":34,"dRn":0.169},{"cells":"68 cells","run":"A","cycle":35,"dRn":0.1962},{"cells":"68 cells","run":"A","cycle":36,"dRn":0.2158},{"cells":"68 cells","run":"A","cycle":37,"dRn":0.2349},{"cells":"68 cells","run":"A","cycle":38,"dRn":0.2554},{"cells":"68 cells","run":"A","cycle":39,"dRn":0.273},{"cells":"68 cells","run":"A","cycle":40,"dRn":0.2905},{"cells":"68 cells","run":"A","cycle":41,"dRn":0.3},{"cells":"68 cells","run":"A","cycle":42,"dRn":0.306},{"cells":"68 cells","run":"A","cycle":43,"dRn":0.313},{"cells":"68 cells","run":"A","cycle":44,"dRn":0.318},{"cells":"68 cells","run":"A","cycle":45,"dRn":0.323},
{"cells":"68 cells","run":"B","cycle":15,"dRn":0.0015},{"cells":"68 cells","run":"B","cycle":16,"dRn":0.0005},{"cells":"68 cells","run":"B","cycle":17,"dRn":0.0005},{"cells":"68 cells","run":"B","cycle":18,"dRn":0.0005},{"cells":"68 cells","run":"B","cycle":19,"dRn":0.0005},{"cells":"68 cells","run":"B","cycle":20,"dRn":0.0005},{"cells":"68 cells","run":"B","cycle":21,"dRn":0},{"cells":"68 cells","run":"B","cycle":22,"dRn":0},{"cells":"68 cells","run":"B","cycle":23,"dRn":0},{"cells":"68 cells","run":"B","cycle":24,"dRn":0},{"cells":"68 cells","run":"B","cycle":25,"dRn":0.0008},{"cells":"68 cells","run":"B","cycle":26,"dRn":0.003},{"cells":"68 cells","run":"B","cycle":27,"dRn":0.0093},{"cells":"68 cells","run":"B","cycle":28,"dRn":0.0166},{"cells":"68 cells","run":"B","cycle":29,"dRn":0.0298},{"cells":"68 cells","run":"B","cycle":30,"dRn":0.0532},{"cells":"68 cells","run":"B","cycle":31,"dRn":0.0811},{"cells":"68 cells","run":"B","cycle":32,"dRn":0.1177},{"cells":"68 cells","run":"B","cycle":33,"dRn":0.1543},{"cells":"68 cells","run":"B","cycle":34,"dRn":0.1924},{"cells":"68 cells","run":"B","cycle":35,"dRn":0.2217},{"cells":"68 cells","run":"B","cycle":36,"dRn":0.2466},{"cells":"68 cells","run":"B","cycle":37,"dRn":0.2656},{"cells":"68 cells","run":"B","cycle":38,"dRn":0.2861},{"cells":"68 cells","run":"B","cycle":39,"dRn":0.298},{"cells":"68 cells","run":"B","cycle":40,"dRn":0.3096},{"cells":"68 cells","run":"B","cycle":41,"dRn":0.318},{"cells":"68 cells","run":"B","cycle":42,"dRn":0.3242},{"cells":"68 cells","run":"B","cycle":43,"dRn":0.33},{"cells":"68 cells","run":"B","cycle":44,"dRn":0.3345},{"cells":"68 cells","run":"B","cycle":45,"dRn":0.339},
{"cells":"17 cells","run":"A","cycle":15,"dRn":0.001},{"cells":"17 cells","run":"A","cycle":16,"dRn":0.0005},{"cells":"17 cells","run":"A","cycle":17,"dRn":0.0005},{"cells":"17 cells","run":"A","cycle":18,"dRn":0},{"cells":"17 cells","run":"A","cycle":19,"dRn":0},{"cells":"17 cells","run":"A","cycle":20,"dRn":0},{"cells":"17 cells","run":"A","cycle":21,"dRn":0},{"cells":"17 cells","run":"A","cycle":22,"dRn":0},{"cells":"17 cells","run":"A","cycle":23,"dRn":0},{"cells":"17 cells","run":"A","cycle":24,"dRn":0},{"cells":"17 cells","run":"A","cycle":25,"dRn":0},{"cells":"17 cells","run":"A","cycle":26,"dRn":0},{"cells":"17 cells","run":"A","cycle":27,"dRn":0},{"cells":"17 cells","run":"A","cycle":28,"dRn":0.002},{"cells":"17 cells","run":"A","cycle":29,"dRn":0.005},{"cells":"17 cells","run":"A","cycle":30,"dRn":0.0137},{"cells":"17 cells","run":"A","cycle":31,"dRn":0.028},{"cells":"17 cells","run":"A","cycle":32,"dRn":0.05},{"cells":"17 cells","run":"A","cycle":33,"dRn":0.08},{"cells":"17 cells","run":"A","cycle":34,"dRn":0.113},{"cells":"17 cells","run":"A","cycle":35,"dRn":0.147},{"cells":"17 cells","run":"A","cycle":36,"dRn":0.1763},{"cells":"17 cells","run":"A","cycle":37,"dRn":0.2041},{"cells":"17 cells","run":"A","cycle":38,"dRn":0.2275},{"cells":"17 cells","run":"A","cycle":39,"dRn":0.2437},{"cells":"17 cells","run":"A","cycle":40,"dRn":0.2583},{"cells":"17 cells","run":"A","cycle":41,"dRn":0.27},{"cells":"17 cells","run":"A","cycle":42,"dRn":0.2817},{"cells":"17 cells","run":"A","cycle":43,"dRn":0.29},{"cells":"17 cells","run":"A","cycle":44,"dRn":0.2979},{"cells":"17 cells","run":"A","cycle":45,"dRn":0.3066},
{"cells":"17 cells","run":"B","cycle":15,"dRn":0.001},{"cells":"17 cells","run":"B","cycle":16,"dRn":0.0005},{"cells":"17 cells","run":"B","cycle":17,"dRn":0.0005},{"cells":"17 cells","run":"B","cycle":18,"dRn":0},{"cells":"17 cells","run":"B","cycle":19,"dRn":0},{"cells":"17 cells","run":"B","cycle":20,"dRn":0},{"cells":"17 cells","run":"B","cycle":21,"dRn":0},{"cells":"17 cells","run":"B","cycle":22,"dRn":0},{"cells":"17 cells","run":"B","cycle":23,"dRn":0},{"cells":"17 cells","run":"B","cycle":24,"dRn":0},{"cells":"17 cells","run":"B","cycle":25,"dRn":0},{"cells":"17 cells","run":"B","cycle":26,"dRn":0},{"cells":"17 cells","run":"B","cycle":27,"dRn":0},{"cells":"17 cells","run":"B","cycle":28,"dRn":0.0022},{"cells":"17 cells","run":"B","cycle":29,"dRn":0.0055},{"cells":"17 cells","run":"B","cycle":30,"dRn":0.014},{"cells":"17 cells","run":"B","cycle":31,"dRn":0.0285},{"cells":"17 cells","run":"B","cycle":32,"dRn":0.0505},{"cells":"17 cells","run":"B","cycle":33,"dRn":0.0815},{"cells":"17 cells","run":"B","cycle":34,"dRn":0.1148},{"cells":"17 cells","run":"B","cycle":35,"dRn":0.1514},{"cells":"17 cells","run":"B","cycle":36,"dRn":0.1886},{"cells":"17 cells","run":"B","cycle":37,"dRn":0.2173},{"cells":"17 cells","run":"B","cycle":38,"dRn":0.2401},{"cells":"17 cells","run":"B","cycle":39,"dRn":0.2598},{"cells":"17 cells","run":"B","cycle":40,"dRn":0.2735},{"cells":"17 cells","run":"B","cycle":41,"dRn":0.2876},{"cells":"17 cells","run":"B","cycle":42,"dRn":0.2949},{"cells":"17 cells","run":"B","cycle":43,"dRn":0.3022},{"cells":"17 cells","run":"B","cycle":44,"dRn":0.305},{"cells":"17 cells","run":"B","cycle":45,"dRn":0.314},
{"cells":"9 cells","run":"A","cycle":15,"dRn":0.001},{"cells":"9 cells","run":"A","cycle":16,"dRn":0.0005},{"cells":"9 cells","run":"A","cycle":17,"dRn":0},{"cells":"9 cells","run":"A","cycle":18,"dRn":0},{"cells":"9 cells","run":"A","cycle":19,"dRn":0},{"cells":"9 cells","run":"A","cycle":20,"dRn":0},{"cells":"9 cells","run":"A","cycle":21,"dRn":0},{"cells":"9 cells","run":"A","cycle":22,"dRn":0},{"cells":"9 cells","run":"A","cycle":23,"dRn":0},{"cells":"9 cells","run":"A","cycle":24,"dRn":0},{"cells":"9 cells","run":"A","cycle":25,"dRn":0},{"cells":"9 cells","run":"A","cycle":26,"dRn":0},{"cells":"9 cells","run":"A","cycle":27,"dRn":0},{"cells":"9 cells","run":"A","cycle":28,"dRn":0},{"cells":"9 cells","run":"A","cycle":29,"dRn":0},{"cells":"9 cells","run":"A","cycle":30,"dRn":0.001},{"cells":"9 cells","run":"A","cycle":31,"dRn":0.005},{"cells":"9 cells","run":"A","cycle":32,"dRn":0.0152},{"cells":"9 cells","run":"A","cycle":33,"dRn":0.0283},{"cells":"9 cells","run":"A","cycle":34,"dRn":0.0518},{"cells":"9 cells","run":"A","cycle":35,"dRn":0.0825},{"cells":"9 cells","run":"A","cycle":36,"dRn":0.1177},{"cells":"9 cells","run":"A","cycle":37,"dRn":0.1514},{"cells":"9 cells","run":"A","cycle":38,"dRn":0.1821},{"cells":"9 cells","run":"A","cycle":39,"dRn":0.2041},{"cells":"9 cells","run":"A","cycle":40,"dRn":0.2232},{"cells":"9 cells","run":"A","cycle":41,"dRn":0.2393},{"cells":"9 cells","run":"A","cycle":42,"dRn":0.2524},{"cells":"9 cells","run":"A","cycle":43,"dRn":0.262},{"cells":"9 cells","run":"A","cycle":44,"dRn":0.273},{"cells":"9 cells","run":"A","cycle":45,"dRn":0.2817},
{"cells":"9 cells","run":"B","cycle":15,"dRn":0.001},{"cells":"9 cells","run":"B","cycle":16,"dRn":0.0005},{"cells":"9 cells","run":"B","cycle":17,"dRn":0},{"cells":"9 cells","run":"B","cycle":18,"dRn":0},{"cells":"9 cells","run":"B","cycle":19,"dRn":0},{"cells":"9 cells","run":"B","cycle":20,"dRn":0},{"cells":"9 cells","run":"B","cycle":21,"dRn":0},{"cells":"9 cells","run":"B","cycle":22,"dRn":0},{"cells":"9 cells","run":"B","cycle":23,"dRn":0},{"cells":"9 cells","run":"B","cycle":24,"dRn":0},{"cells":"9 cells","run":"B","cycle":25,"dRn":0},{"cells":"9 cells","run":"B","cycle":26,"dRn":0},{"cells":"9 cells","run":"B","cycle":27,"dRn":0},{"cells":"9 cells","run":"B","cycle":28,"dRn":0},{"cells":"9 cells","run":"B","cycle":29,"dRn":0},{"cells":"9 cells","run":"B","cycle":30,"dRn":0.0012},{"cells":"9 cells","run":"B","cycle":31,"dRn":0.0055},{"cells":"9 cells","run":"B","cycle":32,"dRn":0.0155},{"cells":"9 cells","run":"B","cycle":33,"dRn":0.029},{"cells":"9 cells","run":"B","cycle":34,"dRn":0.053},{"cells":"9 cells","run":"B","cycle":35,"dRn":0.085},{"cells":"9 cells","run":"B","cycle":36,"dRn":0.1195},{"cells":"9 cells","run":"B","cycle":37,"dRn":0.1616},{"cells":"9 cells","run":"B","cycle":38,"dRn":0.1924},{"cells":"9 cells","run":"B","cycle":39,"dRn":0.215},{"cells":"9 cells","run":"B","cycle":40,"dRn":0.2319},{"cells":"9 cells","run":"B","cycle":41,"dRn":0.248},{"cells":"9 cells","run":"B","cycle":42,"dRn":0.2589},{"cells":"9 cells","run":"B","cycle":43,"dRn":0.2686},{"cells":"9 cells","run":"B","cycle":44,"dRn":0.2788},{"cells":"9 cells","run":"B","cycle":45,"dRn":0.2882},
{"cells":"2 cells","run":"A","cycle":15,"dRn":0.001},{"cells":"2 cells","run":"A","cycle":16,"dRn":0.0005},{"cells":"2 cells","run":"A","cycle":17,"dRn":0},{"cells":"2 cells","run":"A","cycle":18,"dRn":0},{"cells":"2 cells","run":"A","cycle":19,"dRn":0},{"cells":"2 cells","run":"A","cycle":20,"dRn":0},{"cells":"2 cells","run":"A","cycle":21,"dRn":-0.001},{"cells":"2 cells","run":"A","cycle":22,"dRn":-0.001},{"cells":"2 cells","run":"A","cycle":23,"dRn":-0.001},{"cells":"2 cells","run":"A","cycle":24,"dRn":-0.001},{"cells":"2 cells","run":"A","cycle":25,"dRn":-0.001},{"cells":"2 cells","run":"A","cycle":26,"dRn":-0.001},{"cells":"2 cells","run":"A","cycle":27,"dRn":-0.001},{"cells":"2 cells","run":"A","cycle":28,"dRn":-0.001},{"cells":"2 cells","run":"A","cycle":29,"dRn":-0.0005},{"cells":"2 cells","run":"A","cycle":30,"dRn":0},{"cells":"2 cells","run":"A","cycle":31,"dRn":0.002},{"cells":"2 cells","run":"A","cycle":32,"dRn":0.006},{"cells":"2 cells","run":"A","cycle":33,"dRn":0.016},{"cells":"2 cells","run":"A","cycle":34,"dRn":0.028},{"cells":"2 cells","run":"A","cycle":35,"dRn":0.05},{"cells":"2 cells","run":"A","cycle":36,"dRn":0.0796},{"cells":"2 cells","run":"A","cycle":37,"dRn":0.1162},{"cells":"2 cells","run":"A","cycle":38,"dRn":0.1528},{"cells":"2 cells","run":"A","cycle":39,"dRn":0.1851},{"cells":"2 cells","run":"A","cycle":40,"dRn":0.2114},{"cells":"2 cells","run":"A","cycle":41,"dRn":0.2319},{"cells":"2 cells","run":"A","cycle":42,"dRn":0.2466},{"cells":"2 cells","run":"A","cycle":43,"dRn":0.2598},{"cells":"2 cells","run":"A","cycle":44,"dRn":0.268},{"cells":"2 cells","run":"A","cycle":45,"dRn":0.2847},
{"cells":"2 cells","run":"B","cycle":15,"dRn":0.001},{"cells":"2 cells","run":"B","cycle":16,"dRn":0.0005},{"cells":"2 cells","run":"B","cycle":17,"dRn":0},{"cells":"2 cells","run":"B","cycle":18,"dRn":0},{"cells":"2 cells","run":"B","cycle":19,"dRn":0},{"cells":"2 cells","run":"B","cycle":20,"dRn":0},{"cells":"2 cells","run":"B","cycle":21,"dRn":-0.001},{"cells":"2 cells","run":"B","cycle":22,"dRn":-0.001},{"cells":"2 cells","run":"B","cycle":23,"dRn":-0.001},{"cells":"2 cells","run":"B","cycle":24,"dRn":-0.001},{"cells":"2 cells","run":"B","cycle":25,"dRn":-0.001},{"cells":"2 cells","run":"B","cycle":26,"dRn":-0.001},{"cells":"2 cells","run":"B","cycle":27,"dRn":-0.001},{"cells":"2 cells","run":"B","cycle":28,"dRn":-0.001},{"cells":"2 cells","run":"B","cycle":29,"dRn":-0.0005},{"cells":"2 cells","run":"B","cycle":30,"dRn":0},{"cells":"2 cells","run":"B","cycle":31,"dRn":0.0025},{"cells":"2 cells","run":"B","cycle":32,"dRn":0.0068},{"cells":"2 cells","run":"B","cycle":33,"dRn":0.0172},{"cells":"2 cells","run":"B","cycle":34,"dRn":0.0295},{"cells":"2 cells","run":"B","cycle":35,"dRn":0.052},{"cells":"2 cells","run":"B","cycle":36,"dRn":0.083},{"cells":"2 cells","run":"B","cycle":37,"dRn":0.119},{"cells":"2 cells","run":"B","cycle":38,"dRn":0.155},{"cells":"2 cells","run":"B","cycle":39,"dRn":0.1875},{"cells":"2 cells","run":"B","cycle":40,"dRn":0.2135},{"cells":"2 cells","run":"B","cycle":41,"dRn":0.2335},{"cells":"2 cells","run":"B","cycle":42,"dRn":0.248},{"cells":"2 cells","run":"B","cycle":43,"dRn":0.2615},{"cells":"2 cells","run":"B","cycle":44,"dRn":0.2705},{"cells":"2 cells","run":"B","cycle":45,"dRn":0.2865},
{"cells":"0.5 cell","run":"A","cycle":15,"dRn":0.004},{"cells":"0.5 cell","run":"A","cycle":16,"dRn":0.002},{"cells":"0.5 cell","run":"A","cycle":17,"dRn":0.001},{"cells":"0.5 cell","run":"A","cycle":18,"dRn":0},{"cells":"0.5 cell","run":"A","cycle":19,"dRn":0},{"cells":"0.5 cell","run":"A","cycle":20,"dRn":0},{"cells":"0.5 cell","run":"A","cycle":21,"dRn":0},{"cells":"0.5 cell","run":"A","cycle":22,"dRn":-0.003},{"cells":"0.5 cell","run":"A","cycle":23,"dRn":-0.002},{"cells":"0.5 cell","run":"A","cycle":24,"dRn":-0.002},{"cells":"0.5 cell","run":"A","cycle":25,"dRn":-0.002},{"cells":"0.5 cell","run":"A","cycle":26,"dRn":-0.002},{"cells":"0.5 cell","run":"A","cycle":27,"dRn":-0.002},{"cells":"0.5 cell","run":"A","cycle":28,"dRn":-0.002},{"cells":"0.5 cell","run":"A","cycle":29,"dRn":-0.001},{"cells":"0.5 cell","run":"A","cycle":30,"dRn":-0.001},{"cells":"0.5 cell","run":"A","cycle":31,"dRn":0},{"cells":"0.5 cell","run":"A","cycle":32,"dRn":0.0005},{"cells":"0.5 cell","run":"A","cycle":33,"dRn":0.002},{"cells":"0.5 cell","run":"A","cycle":34,"dRn":0.0108},{"cells":"0.5 cell","run":"A","cycle":35,"dRn":0.021},{"cells":"0.5 cell","run":"A","cycle":36,"dRn":0.0386},{"cells":"0.5 cell","run":"A","cycle":37,"dRn":0.0664},{"cells":"0.5 cell","run":"A","cycle":38,"dRn":0.1016},{"cells":"0.5 cell","run":"A","cycle":39,"dRn":0.1397},{"cells":"0.5 cell","run":"A","cycle":40,"dRn":0.1734},{"cells":"0.5 cell","run":"A","cycle":41,"dRn":0.2041},{"cells":"0.5 cell","run":"A","cycle":42,"dRn":0.2261},{"cells":"0.5 cell","run":"A","cycle":43,"dRn":0.2451},{"cells":"0.5 cell","run":"A","cycle":44,"dRn":0.2612},{"cells":"0.5 cell","run":"A","cycle":45,"dRn":0.2759},
{"cells":"0.5 cell","run":"B","cycle":15,"dRn":0.003},{"cells":"0.5 cell","run":"B","cycle":16,"dRn":0.002},{"cells":"0.5 cell","run":"B","cycle":17,"dRn":0.001},{"cells":"0.5 cell","run":"B","cycle":18,"dRn":0},{"cells":"0.5 cell","run":"B","cycle":19,"dRn":0},{"cells":"0.5 cell","run":"B","cycle":20,"dRn":0},{"cells":"0.5 cell","run":"B","cycle":21,"dRn":0},{"cells":"0.5 cell","run":"B","cycle":22,"dRn":-0.004},{"cells":"0.5 cell","run":"B","cycle":23,"dRn":-0.002},{"cells":"0.5 cell","run":"B","cycle":24,"dRn":-0.002},{"cells":"0.5 cell","run":"B","cycle":25,"dRn":-0.002},{"cells":"0.5 cell","run":"B","cycle":26,"dRn":-0.002},{"cells":"0.5 cell","run":"B","cycle":27,"dRn":-0.002},{"cells":"0.5 cell","run":"B","cycle":28,"dRn":-0.002},{"cells":"0.5 cell","run":"B","cycle":29,"dRn":-0.001},{"cells":"0.5 cell","run":"B","cycle":30,"dRn":-0.001},{"cells":"0.5 cell","run":"B","cycle":31,"dRn":0},{"cells":"0.5 cell","run":"B","cycle":32,"dRn":0.0005},{"cells":"0.5 cell","run":"B","cycle":33,"dRn":0.0025},{"cells":"0.5 cell","run":"B","cycle":34,"dRn":0.0112},{"cells":"0.5 cell","run":"B","cycle":35,"dRn":0.0215},{"cells":"0.5 cell","run":"B","cycle":36,"dRn":0.039},{"cells":"0.5 cell","run":"B","cycle":37,"dRn":0.067},{"cells":"0.5 cell","run":"B","cycle":38,"dRn":0.1025},{"cells":"0.5 cell","run":"B","cycle":39,"dRn":0.14},{"cells":"0.5 cell","run":"B","cycle":40,"dRn":0.172},{"cells":"0.5 cell","run":"B","cycle":41,"dRn":0.1983},{"cells":"0.5 cell","run":"B","cycle":42,"dRn":0.2158},{"cells":"0.5 cell","run":"B","cycle":43,"dRn":0.2305},{"cells":"0.5 cell","run":"B","cycle":44,"dRn":0.2437},{"cells":"0.5 cell","run":"B","cycle":45,"dRn":0.2589},
{"cells":"0.25 cell","run":"A","cycle":15,"dRn":0.002},{"cells":"0.25 cell","run":"A","cycle":16,"dRn":0.001},{"cells":"0.25 cell","run":"A","cycle":17,"dRn":0.001},{"cells":"0.25 cell","run":"A","cycle":18,"dRn":0},{"cells":"0.25 cell","run":"A","cycle":19,"dRn":0},{"cells":"0.25 cell","run":"A","cycle":20,"dRn":0},{"cells":"0.25 cell","run":"A","cycle":21,"dRn":0},{"cells":"0.25 cell","run":"A","cycle":22,"dRn":0},{"cells":"0.25 cell","run":"A","cycle":23,"dRn":-0.001},{"cells":"0.25 cell","run":"A","cycle":24,"dRn":-0.001},{"cells":"0.25 cell","run":"A","cycle":25,"dRn":-0.001},{"cells":"0.25 cell","run":"A","cycle":26,"dRn":-0.001},{"cells":"0.25 cell","run":"A","cycle":27,"dRn":-0.001},{"cells":"0.25 cell","run":"A","cycle":28,"dRn":-0.001},{"cells":"0.25 cell","run":"A","cycle":29,"dRn":-0.001},{"cells":"0.25 cell","run":"A","cycle":30,"dRn":-0.001},{"cells":"0.25 cell","run":"A","cycle":31,"dRn":-0.001},{"cells":"0.25 cell","run":"A","cycle":32,"dRn":-0.001},{"cells":"0.25 cell","run":"A","cycle":33,"dRn":-0.0005},{"cells":"0.25 cell","run":"A","cycle":34,"dRn":0},{"cells":"0.25 cell","run":"A","cycle":35,"dRn":0.003},{"cells":"0.25 cell","run":"A","cycle":36,"dRn":0.0108},{"cells":"0.25 cell","run":"A","cycle":37,"dRn":0.021},{"cells":"0.25 cell","run":"A","cycle":38,"dRn":0.04},{"cells":"0.25 cell","run":"A","cycle":39,"dRn":0.0664},{"cells":"0.25 cell","run":"A","cycle":40,"dRn":0.1001},{"cells":"0.25 cell","run":"A","cycle":41,"dRn":0.1323},{"cells":"0.25 cell","run":"A","cycle":42,"dRn":0.1587},{"cells":"0.25 cell","run":"A","cycle":43,"dRn":0.1821},{"cells":"0.25 cell","run":"A","cycle":44,"dRn":0.2026},{"cells":"0.25 cell","run":"A","cycle":45,"dRn":0.2217},
{"cells":"0.25 cell","run":"B","cycle":15,"dRn":0.002},{"cells":"0.25 cell","run":"B","cycle":16,"dRn":0.001},{"cells":"0.25 cell","run":"B","cycle":17,"dRn":0.001},{"cells":"0.25 cell","run":"B","cycle":18,"dRn":0},{"cells":"0.25 cell","run":"B","cycle":19,"dRn":0},{"cells":"0.25 cell","run":"B","cycle":20,"dRn":0},{"cells":"0.25 cell","run":"B","cycle":21,"dRn":0},{"cells":"0.25 cell","run":"B","cycle":22,"dRn":0},{"cells":"0.25 cell","run":"B","cycle":23,"dRn":-0.001},{"cells":"0.25 cell","run":"B","cycle":24,"dRn":-0.001},{"cells":"0.25 cell","run":"B","cycle":25,"dRn":-0.001},{"cells":"0.25 cell","run":"B","cycle":26,"dRn":-0.001},{"cells":"0.25 cell","run":"B","cycle":27,"dRn":-0.001},{"cells":"0.25 cell","run":"B","cycle":28,"dRn":-0.001},{"cells":"0.25 cell","run":"B","cycle":29,"dRn":-0.001},{"cells":"0.25 cell","run":"B","cycle":30,"dRn":-0.001},{"cells":"0.25 cell","run":"B","cycle":31,"dRn":-0.001},{"cells":"0.25 cell","run":"B","cycle":32,"dRn":-0.001},{"cells":"0.25 cell","run":"B","cycle":33,"dRn":-0.0005},{"cells":"0.25 cell","run":"B","cycle":34,"dRn":0},{"cells":"0.25 cell","run":"B","cycle":35,"dRn":0.0035},{"cells":"0.25 cell","run":"B","cycle":36,"dRn":0.011},{"cells":"0.25 cell","run":"B","cycle":37,"dRn":0.0212},{"cells":"0.25 cell","run":"B","cycle":38,"dRn":0.041},{"cells":"0.25 cell","run":"B","cycle":39,"dRn":0.067},{"cells":"0.25 cell","run":"B","cycle":40,"dRn":0.0899},{"cells":"0.25 cell","run":"B","cycle":41,"dRn":0.1074},{"cells":"0.25 cell","run":"B","cycle":42,"dRn":0.1206},{"cells":"0.25 cell","run":"B","cycle":43,"dRn":0.1353},{"cells":"0.25 cell","run":"B","cycle":44,"dRn":0.1455},{"cells":"0.25 cell","run":"B","cycle":45,"dRn":0.1558},
{"cells":"negative","run":"A","cycle":15,"dRn":0.001},{"cells":"negative","run":"A","cycle":16,"dRn":0.0005},{"cells":"negative","run":"A","cycle":17,"dRn":0.0005},{"cells":"negative","run":"A","cycle":18,"dRn":0},{"cells":"negative","run":"A","cycle":19,"dRn":0},{"cells":"negative","run":"A","cycle":20,"dRn":0},{"cells":"negative","run":"A","cycle":21,"dRn":0.002},{"cells":"negative","run":"A","cycle":22,"dRn":0.005},{"cells":"negative","run":"A","cycle":23,"dRn":0.001},{"cells":"negative","run":"A","cycle":24,"dRn":0.001},{"cells":"negative","run":"A","cycle":25,"dRn":0},{"cells":"negative","run":"A","cycle":26,"dRn":0},{"cells":"negative","run":"A","cycle":27,"dRn":0},{"cells":"negative","run":"A","cycle":28,"dRn":0},{"cells":"negative","run":"A","cycle":29,"dRn":0},{"cells":"negative","run":"A","cycle":30,"dRn":0},{"cells":"negative","run":"A","cycle":31,"dRn":0},{"cells":"negative","run":"A","cycle":32,"dRn":0},{"cells":"negative","run":"A","cycle":33,"dRn":0.0005},{"cells":"negative","run":"A","cycle":34,"dRn":0.0005},{"cells":"negative","run":"A","cycle":35,"dRn":0.0005},{"cells":"negative","run":"A","cycle":36,"dRn":0.001},{"cells":"negative","run":"A","cycle":37,"dRn":0.0005},{"cells":"negative","run":"A","cycle":38,"dRn":0},{"cells":"negative","run":"A","cycle":39,"dRn":0},{"cells":"negative","run":"A","cycle":40,"dRn":0},{"cells":"negative","run":"A","cycle":41,"dRn":0},{"cells":"negative","run":"A","cycle":42,"dRn":0},{"cells":"negative","run":"A","cycle":43,"dRn":0},{"cells":"negative","run":"A","cycle":44,"dRn":0},{"cells":"negative","run":"A","cycle":45,"dRn":-0.001},
{"cells":"negative","run":"B","cycle":15,"dRn":0.001},{"cells":"negative","run":"B","cycle":16,"dRn":0.0005},{"cells":"negative","run":"B","cycle":17,"dRn":0.0005},{"cells":"negative","run":"B","cycle":18,"dRn":0},{"cells":"negative","run":"B","cycle":19,"dRn":0},{"cells":"negative","run":"B","cycle":20,"dRn":0},{"cells":"negative","run":"B","cycle":21,"dRn":0.001},{"cells":"negative","run":"B","cycle":22,"dRn":0.002},{"cells":"negative","run":"B","cycle":23,"dRn":0.001},{"cells":"negative","run":"B","cycle":24,"dRn":0.001},{"cells":"negative","run":"B","cycle":25,"dRn":0},{"cells":"negative","run":"B","cycle":26,"dRn":0},{"cells":"negative","run":"B","cycle":27,"dRn":0},{"cells":"negative","run":"B","cycle":28,"dRn":0},{"cells":"negative","run":"B","cycle":29,"dRn":0},{"cells":"negative","run":"B","cycle":30,"dRn":0},{"cells":"negative","run":"B","cycle":31,"dRn":0},{"cells":"negative","run":"B","cycle":32,"dRn":0},{"cells":"negative","run":"B","cycle":33,"dRn":0.0005},{"cells":"negative","run":"B","cycle":34,"dRn":0.001},{"cells":"negative","run":"B","cycle":35,"dRn":0.0008},{"cells":"negative","run":"B","cycle":36,"dRn":0.001},{"cells":"negative","run":"B","cycle":37,"dRn":0.0005},{"cells":"negative","run":"B","cycle":38,"dRn":0},{"cells":"negative","run":"B","cycle":39,"dRn":0},{"cells":"negative","run":"B","cycle":40,"dRn":0},{"cells":"negative","run":"B","cycle":41,"dRn":0},{"cells":"negative","run":"B","cycle":42,"dRn":0},{"cells":"negative","run":"B","cycle":43,"dRn":0},{"cells":"negative","run":"B","cycle":44,"dRn":-0.001},{"cells":"negative","run":"B","cycle":45,"dRn":-0.003}
],
"naegleria":[
{"cells":"335 cells","run":"A","cycle":15,"dRn":0.0004},{"cells":"335 cells","run":"A","cycle":16,"dRn":0.0004},{"cells":"335 cells","run":"A","cycle":17,"dRn":0.0004},{"cells":"335 cells","run":"A","cycle":18,"dRn":0.0004},{"cells":"335 cells","run":"A","cycle":19,"dRn":0.0004},{"cells":"335 cells","run":"A","cycle":20,"dRn":0.0004},{"cells":"335 cells","run":"A","cycle":21,"dRn":0.0004},{"cells":"335 cells","run":"A","cycle":22,"dRn":0.0004},{"cells":"335 cells","run":"A","cycle":23,"dRn":0.0004},{"cells":"335 cells","run":"A","cycle":24,"dRn":0.0004},{"cells":"335 cells","run":"A","cycle":25,"dRn":0.0004},{"cells":"335 cells","run":"A","cycle":26,"dRn":0.0004},{"cells":"335 cells","run":"A","cycle":27,"dRn":0.0004},{"cells":"335 cells","run":"A","cycle":28,"dRn":0.0017},{"cells":"335 cells","run":"A","cycle":29,"dRn":0.0037},{"cells":"335 cells","run":"A","cycle":30,"dRn":0.0066},{"cells":"335 cells","run":"A","cycle":31,"dRn":0.011},{"cells":"335 cells","run":"A","cycle":32,"dRn":0.0158},{"cells":"335 cells","run":"A","cycle":33,"dRn":0.0204},{"cells":"335 cells","run":"A","cycle":34,"dRn":0.0247},{"cells":"335 cells","run":"A","cycle":35,"dRn":0.0287},{"cells":"335 cells","run":"A","cycle":36,"dRn":0.0321},{"cells":"335 cells","run":"A","cycle":37,"dRn":0.0349},{"cells":"335 cells","run":"A","cycle":38,"dRn":0.0376},{"cells":"335 cells","run":"A","cycle":39,"dRn":0.04},{"cells":"335 cells","run":"A","cycle":40,"dRn":0.0417},{"cells":"335 cells","run":"A","cycle":41,"dRn":0.0434},{"cells":"335 cells","run":"A","cycle":42,"dRn":0.0443},{"cells":"335 cells","run":"A","cycle":43,"dRn":0.046},{"cells":"335 cells","run":"A","cycle":44,"dRn":0.0475},{"cells":"335 cells","run":"A","cycle":45,"dRn":0.048},
{"cells":"335 cells","run":"B","cycle":15,"dRn":0.0004},{"cells":"335 cells","run":"B","cycle":16,"dRn":0.0004},{"cells":"335 cells","run":"B","cycle":17,"dRn":0.0004},{"cells":"335 cells","run":"B","cycle":18,"dRn":0.0004},{"cells":"335 cells","run":"B","cycle":19,"dRn":0.0004},{"cells":"335 cells","run":"B","cycle":20,"dRn":0.0004},{"cells":"335 cells","run":"B","cycle":21,"dRn":0.0004},{"cells":"335 cells","run":"B","cycle":22,"dRn":0.0004},{"cells":"335 cells","run":"B","cycle":23,"dRn":0.0004},{"cells":"335 cells","run":"B","cycle":24,"dRn":0.0004},{"cells":"335 cells","run":"B","cycle":25,"dRn":0.0004},{"cells":"335 cells","run":"B","cycle":26,"dRn":0.0004},{"cells":"335 cells","run":"B","cycle":27,"dRn":0.0004},{"cells":"335 cells","run":"B","cycle":28,"dRn":0.002},{"cells":"335 cells","run":"B","cycle":29,"dRn":0.004},{"cells":"335 cells","run":"B","cycle":30,"dRn":0.0069},{"cells":"335 cells","run":"B","cycle":31,"dRn":0.0112},{"cells":"335 cells","run":"B","cycle":32,"dRn":0.016},{"cells":"335 cells","run":"B","cycle":33,"dRn":0.0206},{"cells":"335 cells","run":"B","cycle":34,"dRn":0.0249},{"cells":"335 cells","run":"B","cycle":35,"dRn":0.029},{"cells":"335 cells","run":"B","cycle":36,"dRn":0.0325},{"cells":"335 cells","run":"B","cycle":37,"dRn":0.0361},{"cells":"335 cells","run":"B","cycle":38,"dRn":0.0386},{"cells":"335 cells","run":"B","cycle":39,"dRn":0.0407},{"cells":"335 cells","run":"B","cycle":40,"dRn":0.0428},{"cells":"335 cells","run":"B","cycle":41,"dRn":0.0443},{"cells":"335 cells","run":"B","cycle":42,"dRn":0.0457},{"cells":"335 cells","run":"B","cycle":43,"dRn":0.047},{"cells":"335 cells","run":"B","cycle":44,"dRn":0.0487},{"cells":"335 cells","run":"B","cycle":45,"dRn":0.0494},
{"cells":"84 cells","run":"A","cycle":15,"dRn":0.0004},{"cells":"84 cells","run":"A","cycle":16,"dRn":0.0004},{"cells":"84 cells","run":"A","cycle":17,"dRn":0.0004},{"cells":"84 cells","run":"A","cycle":18,"dRn":0.0004},{"cells":"84 cells","run":"A","cycle":19,"dRn":0.0004},{"cells":"84 cells","run":"A","cycle":20,"dRn":0.0004},{"cells":"84 cells","run":"A","cycle":21,"dRn":0.0003},{"cells":"84 cells","run":"A","cycle":22,"dRn":0.0002},{"cells":"84 cells","run":"A","cycle":23,"dRn":0.0002},{"cells":"84 cells","run":"A","cycle":24,"dRn":0.0002},{"cells":"84 cells","run":"A","cycle":25,"dRn":0.0002},{"cells":"84 cells","run":"A","cycle":26,"dRn":0.0002},{"cells":"84 cells","run":"A","cycle":27,"dRn":0.0002},{"cells":"84 cells","run":"A","cycle":28,"dRn":0.0002},{"cells":"84 cells","run":"A","cycle":29,"dRn":0.0012},{"cells":"84 cells","run":"A","cycle":30,"dRn":0.002},{"cells":"84 cells","run":"A","cycle":31,"dRn":0.0046},{"cells":"84 cells","run":"A","cycle":32,"dRn":0.0082},{"cells":"84 cells","run":"A","cycle":33,"dRn":0.0131},{"cells":"84 cells","run":"A","cycle":34,"dRn":0.0184},{"cells":"84 cells","run":"A","cycle":35,"dRn":0.0229},{"cells":"84 cells","run":"A","cycle":36,"dRn":0.0275},{"cells":"84 cells","run":"A","cycle":37,"dRn":0.0313},{"cells":"84 cells","run":"A","cycle":38,"dRn":0.0349},{"cells":"84 cells","run":"A","cycle":39,"dRn":0.0378},{"cells":"84 cells","run":"A","cycle":40,"dRn":0.0402},{"cells":"84 cells","run":"A","cycle":41,"dRn":0.0429},{"cells":"84 cells","run":"A","cycle":42,"dRn":0.0451},{"cells":"84 cells","run":"A","cycle":43,"dRn":0.0465},{"cells":"84 cells","run":"A","cycle":44,"dRn":0.048},{"cells":"84 cells","run":"A","cycle":45,"dRn":0.0492},
{"cells":"84 cells","run":"B","cycle":15,"dRn":0.0004},{"cells":"84 cells","run":"B","cycle":16,"dRn":0.0004},{"cells":"84 cells","run":"B","cycle":17,"dRn":0.0004},{"cells":"84 cells","run":"B","cycle":18,"dRn":0.0004},{"cells":"84 cells","run":"B","cycle":19,"dRn":0.0004},{"cells":"84 cells","run":"B","cycle":20,"dRn":0.0004},{"cells":"84 cells","run":"B","cycle":21,"dRn":0.0003},{"cells":"84 cells","run":"B","cycle":22,"dRn":0.0002},{"cells":"84 cells","run":"B","cycle":23,"dRn":0.0002},{"cells":"84 cells","run":"B","cycle":24,"dRn":0.0002},{"cells":"84 cells","run":"B","cycle":25,"dRn":0.0002},{"cells":"84 cells","run":"B","cycle":26,"dRn":0.0002},{"cells":"84 cells","run":"B","cycle":27,"dRn":0.0002},{"cells":"84 cells","run":"B","cycle":28,"dRn":0.0002},{"cells":"84 cells","run":"B","cycle":29,"dRn":0.0014},{"cells":"84 cells","run":"B","cycle":30,"dRn":0.0024},{"cells":"84 cells","run":"B","cycle":31,"dRn":0.0048},{"cells":"84 cells","run":"B","cycle":32,"dRn":0.0086},{"cells":"84 cells","run":"B","cycle":33,"dRn":0.0135},{"cells":"84 cells","run":"B","cycle":34,"dRn":0.0188},{"cells":"84 cells","run":"B","cycle":35,"dRn":0.0239},{"cells":"84 cells","run":"B","cycle":36,"dRn":0.0282},{"cells":"84 cells","run":"B","cycle":37,"dRn":0.0328},{"cells":"84 cells","run":"B","cycle":38,"dRn":0.0364},{"cells":"84 cells","run":"B","cycle":39,"dRn":0.0393},{"cells":"84 cells","run":"B","cycle":40,"dRn":0.0414},{"cells":"84 cells","run":"B","cycle":41,"dRn":0.0438},{"cells":"84 cells","run":"B","cycle":42,"dRn":0.046},{"cells":"84 cells","run":"B","cycle":43,"dRn":0.0475},{"cells":"84 cells","run":"B","cycle":44,"dRn":0.0487},{"cells":"84 cells","run":"B","cycle":45,"dRn":0.0499},
{"cells":"10 cells","run":"A","cycle":15,"dRn":0.0004},{"cells":"10 cells","run":"A","cycle":16,"dRn":0.0004},{"cells":"10 cells","run":"A","cycle":17,"dRn":0.0004},{"cells":"10 cells","run":"A","cycle":18,"dRn":0.0004},{"cells":"10 cells","run":"A","cycle":19,"dRn":0.0004},{"cells":"10 cells","run":"A","cycle":20,"dRn":0.0004},{"cells":"10 cells","run":"A","cycle":21,"dRn":0.0003},{"cells":"10 cells","run":"A","cycle":22,"dRn":0.0003},{"cells":"10 cells","run":"A","cycle":23,"dRn":0.0003},{"cells":"10 cells","run":"A","cycle":24,"dRn":0.0003},{"cells":"10 cells","run":"A","cycle":25,"dRn":0.0003},{"cells":"10 cells","run":"A","cycle":26,"dRn":0.0003},{"cells":"10 cells","run":"A","cycle":27,"dRn":0.0003},{"cells":"10 cells","run":"A","cycle":28,"dRn":0.0003},{"cells":"10 cells","run":"A","cycle":29,"dRn":0.0003},{"cells":"10 cells","run":"A","cycle":30,"dRn":0.0003},{"cells":"10 cells","run":"A","cycle":31,"dRn":0.0006},{"cells":"10 cells","run":"A","cycle":32,"dRn":0.0013},{"cells":"10 cells","run":"A","cycle":33,"dRn":0.0034},{"cells":"10 cells","run":"A","cycle":34,"dRn":0.0065},{"cells":"10 cells","run":"A","cycle":35,"dRn":0.0105},{"cells":"10 cells","run":"A","cycle":36,"dRn":0.0163},{"cells":"10 cells","run":"A","cycle":37,"dRn":0.0224},{"cells":"10 cells","run":"A","cycle":38,"dRn":0.0275},{"cells":"10 cells","run":"A","cycle":39,"dRn":0.032},{"cells":"10 cells","run":"A","cycle":40,"dRn":0.0361},{"cells":"10 cells","run":"A","cycle":41,"dRn":0.0395},{"cells":"10 cells","run":"A","cycle":42,"dRn":0.0427},{"cells":"10 cells","run":"A","cycle":43,"dRn":0.0465},{"cells":"10 cells","run":"A","cycle":44,"dRn":0.048},{"cells":"10 cells","run":"A","cycle":45,"dRn":0.0497},
{"cells":"10 cells","run":"B","cycle":15,"dRn":0.0004},{"cells":"10 cells","run":"B","cycle":16,"dRn":0.0004},{"cells":"10 cells","run":"B","cycle":17,"dRn":0.0004},{"cells":"10 cells","run":"B","cycle":18,"dRn":0.0004},{"cells":"10 cells","run":"B","cycle":19,"dRn":0.0004},{"cells":"10 cells","run":"B","cycle":20,"dRn":0.0004},{"cells":"10 cells","run":"B","cycle":21,"dRn":0.0003},{"cells":"10 cells","run":"B","cycle":22,"dRn":0.0003},{"cells":"10 cells","run":"B","cycle":23,"dRn":0.0003},{"cells":"10 cells","run":"B","cycle":24,"dRn":0.0003},{"cells":"10 cells","run":"B","cycle":25,"dRn":0.0003},{"cells":"10 cells","run":"B","cycle":26,"dRn":0.0003},{"cells":"10 cells","run":"B","cycle":27,"dRn":0.0003},{"cells":"10 cells","run":"B","cycle":28,"dRn":0.0003},{"cells":"10 cells","run":"B","cycle":29,"dRn":0.0003},{"cells":"10 cells","run":"B","cycle":30,"dRn":0.0003},{"cells":"10 cells","run":"B","cycle":31,"dRn":0.0008},{"cells":"10 cells","run":"B","cycle":32,"dRn":0.0015},{"cells":"10 cells","run":"B","cycle":33,"dRn":0.0038},{"cells":"10 cells","run":"B","cycle":34,"dRn":0.0069},{"cells":"10 cells","run":"B","cycle":35,"dRn":0.011},{"cells":"10 cells","run":"B","cycle":36,"dRn":0.0168},{"cells":"10 cells","run":"B","cycle":37,"dRn":0.0236},{"cells":"10 cells","run":"B","cycle":38,"dRn":0.0294},{"cells":"10 cells","run":"B","cycle":39,"dRn":0.034},{"cells":"10 cells","run":"B","cycle":40,"dRn":0.0386},{"cells":"10 cells","run":"B","cycle":41,"dRn":0.042},{"cells":"10 cells","run":"B","cycle":42,"dRn":0.0448},{"cells":"10 cells","run":"B","cycle":43,"dRn":0.049},{"cells":"10 cells","run":"B","cycle":44,"dRn":0.0511},{"cells":"10 cells","run":"B","cycle":45,"dRn":0.0528},
{"cells":"5 cells","run":"A","cycle":15,"dRn":0.0004},{"cells":"5 cells","run":"A","cycle":16,"dRn":0.0004},{"cells":"5 cells","run":"A","cycle":17,"dRn":0.0004},{"cells":"5 cells","run":"A","cycle":18,"dRn":0.0004},{"cells":"5 cells","run":"A","cycle":19,"dRn":0.0004},{"cells":"5 cells","run":"A","cycle":20,"dRn":0.0004},{"cells":"5 cells","run":"A","cycle":21,"dRn":0.0002},{"cells":"5 cells","run":"A","cycle":22,"dRn":0.0002},{"cells":"5 cells","run":"A","cycle":23,"dRn":0.0002},{"cells":"5 cells","run":"A","cycle":24,"dRn":0.0002},{"cells":"5 cells","run":"A","cycle":25,"dRn":0.0002},{"cells":"5 cells","run":"A","cycle":26,"dRn":0.0002},{"cells":"5 cells","run":"A","cycle":27,"dRn":0.0002},{"cells":"5 cells","run":"A","cycle":28,"dRn":0.0002},{"cells":"5 cells","run":"A","cycle":29,"dRn":0.0002},{"cells":"5 cells","run":"A","cycle":30,"dRn":-0.0001},{"cells":"5 cells","run":"A","cycle":31,"dRn":-0.0001},{"cells":"5 cells","run":"A","cycle":32,"dRn":-0.0001},{"cells":"5 cells","run":"A","cycle":33,"dRn":-0.0001},{"cells":"5 cells","run":"A","cycle":34,"dRn":0.0008},{"cells":"5 cells","run":"A","cycle":35,"dRn":0.0015},{"cells":"5 cells","run":"A","cycle":36,"dRn":0.0034},{"cells":"5 cells","run":"A","cycle":37,"dRn":0.0068},{"cells":"5 cells","run":"A","cycle":38,"dRn":0.0115},{"cells":"5 cells","run":"A","cycle":39,"dRn":0.017},{"cells":"5 cells","run":"A","cycle":40,"dRn":0.0225},{"cells":"5 cells","run":"A","cycle":41,"dRn":0.0284},{"cells":"5 cells","run":"A","cycle":42,"dRn":0.0333},{"cells":"5 cells","run":"A","cycle":43,"dRn":0.0378},{"cells":"5 cells","run":"A","cycle":44,"dRn":0.0414},{"cells":"5 cells","run":"A","cycle":45,"dRn":0.045},
{"cells":"5 cells","run":"B","cycle":15,"dRn":0.0004},{"cells":"5 cells","run":"B","cycle":16,"dRn":0.0004},{"cells":"5 cells","run":"B","cycle":17,"dRn":0.0004},{"cells":"5 cells","run":"B","cycle":18,"dRn":0.0004},{"cells":"5 cells","run":"B","cycle":19,"dRn":0.0004},{"cells":"5 cells","run":"B","cycle":20,"dRn":0.0004},{"cells":"5 cells","run":"B","cycle":21,"dRn":0.0002},{"cells":"5 cells","run":"B","cycle":22,"dRn":0.0002},{"cells":"5 cells","run":"B","cycle":23,"dRn":0.0002},{"cells":"5 cells","run":"B","cycle":24,"dRn":0.0002},{"cells":"5 cells","run":"B","cycle":25,"dRn":0.0002},{"cells":"5 cells","run":"B","cycle":26,"dRn":0.0002},{"cells":"5 cells","run":"B","cycle":27,"dRn":0.0002},{"cells":"5 cells","run":"B","cycle":28,"dRn":0.0002},{"cells":"5 cells","run":"B","cycle":29,"dRn":0.0002},{"cells":"5 cells","run":"B","cycle":30,"dRn":-0.0001},{"cells":"5 cells","run":"B","cycle":31,"dRn":-0.0001},{"cells":"5 cells","run":"B","cycle":32,"dRn":-0.0001},{"cells":"5 cells","run":"B","cycle":33,"dRn":-0.0001},{"cells":"5 cells","run":"B","cycle":34,"dRn":0.001},{"cells":"5 cells","run":"B","cycle":35,"dRn":0.0018},{"cells":"5 cells","run":"B","cycle":36,"dRn":0.0037},{"cells":"5 cells","run":"B","cycle":37,"dRn":0.0074},{"cells":"5 cells","run":"B","cycle":38,"dRn":0.0124},{"cells":"5 cells","run":"B","cycle":39,"dRn":0.0183},{"cells":"5 cells","run":"B","cycle":40,"dRn":0.0236},{"cells":"5 cells","run":"B","cycle":41,"dRn":0.0292},{"cells":"5 cells","run":"B","cycle":42,"dRn":0.034},{"cells":"5 cells","run":"B","cycle":43,"dRn":0.0383},{"cells":"5 cells","run":"B","cycle":44,"dRn":0.0419},{"cells":"5 cells","run":"B","cycle":45,"dRn":0.0455},
{"cells":"0.7 cells","run":"A","cycle":15,"dRn":0.0004},{"cells":"0.7 cells","run":"A","cycle":16,"dRn":0.0004},{"cells":"0.7 cells","run":"A","cycle":17,"dRn":0.0004},{"cells":"0.7 cells","run":"A","cycle":18,"dRn":0.0004},{"cells":"0.7 cells","run":"A","cycle":19,"dRn":0.0004},{"cells":"0.7 cells","run":"A","cycle":20,"dRn":0.0004},{"cells":"0.7 cells","run":"A","cycle":21,"dRn":0.0002},{"cells":"0.7 cells","run":"A","cycle":22,"dRn":0.0002},{"cells":"0.7 cells","run":"A","cycle":23,"dRn":0.0002},{"cells":"0.7 cells","run":"A","cycle":24,"dRn":0.0002},{"cells":"0.7 cells","run":"A","cycle":25,"dRn":0.0002},{"cells":"0.7 cells","run":"A","cycle":26,"dRn":0.0002},{"cells":"0.7 cells","run":"A","cycle":27,"dRn":0.0002},{"cells":"0.7 cells","run":"A","cycle":28,"dRn":0.0002},{"cells":"0.7 cells","run":"A","cycle":29,"dRn":0.0002},{"cells":"0.7 cells","run":"A","cycle":30,"dRn":-0.0003},{"cells":"0.7 cells","run":"A","cycle":31,"dRn":-0.0003},{"cells":"0.7 cells","run":"A","cycle":32,"dRn":-0.0003},{"cells":"0.7 cells","run":"A","cycle":33,"dRn":-0.0003},{"cells":"0.7 cells","run":"A","cycle":34,"dRn":-0.0003},{"cells":"0.7 cells","run":"A","cycle":35,"dRn":0},{"cells":"0.7 cells","run":"A","cycle":36,"dRn":0.0005},{"cells":"0.7 cells","run":"A","cycle":37,"dRn":0.0022},{"cells":"0.7 cells","run":"A","cycle":38,"dRn":0.0048},{"cells":"0.7 cells","run":"A","cycle":39,"dRn":0.0087},{"cells":"0.7 cells","run":"A","cycle":40,"dRn":0.0142},{"cells":"0.7 cells","run":"A","cycle":41,"dRn":0.0202},{"cells":"0.7 cells","run":"A","cycle":42,"dRn":0.027},{"cells":"0.7 cells","run":"A","cycle":43,"dRn":0.0333},{"cells":"0.7 cells","run":"A","cycle":44,"dRn":0.0388},{"cells":"0.7 cells","run":"A","cycle":45,"dRn":0.0441},
{"cells":"0.7 cells","run":"B","cycle":15,"dRn":0.0004},{"cells":"0.7 cells","run":"B","cycle":16,"dRn":0.0004},{"cells":"0.7 cells","run":"B","cycle":17,"dRn":0.0004},{"cells":"0.7 cells","run":"B","cycle":18,"dRn":0.0004},{"cells":"0.7 cells","run":"B","cycle":19,"dRn":0.0004},{"cells":"0.7 cells","run":"B","cycle":20,"dRn":0.0004},{"cells":"0.7 cells","run":"B","cycle":21,"dRn":0.0002},{"cells":"0.7 cells","run":"B","cycle":22,"dRn":0.0002},{"cells":"0.7 cells","run":"B","cycle":23,"dRn":0.0002},{"cells":"0.7 cells","run":"B","cycle":24,"dRn":0.0002},{"cells":"0.7 cells","run":"B","cycle":25,"dRn":0.0002},{"cells":"0.7 cells","run":"B","cycle":26,"dRn":0.0002},{"cells":"0.7 cells","run":"B","cycle":27,"dRn":0.0002},{"cells":"0.7 cells","run":"B","cycle":28,"dRn":0.0002},{"cells":"0.7 cells","run":"B","cycle":29,"dRn":0.0002},{"cells":"0.7 cells","run":"B","cycle":30,"dRn":-0.0002},{"cells":"0.7 cells","run":"B","cycle":31,"dRn":-0.0002},{"cells":"0.7 cells","run":"B","cycle":32,"dRn":-0.0002},{"cells":"0.7 cells","run":"B","cycle":33,"dRn":-0.0002},{"cells":"0.7 cells","run":"B","cycle":34,"dRn":-0.0002},{"cells":"0.7 cells","run":"B","cycle":35,"dRn":0.0005},{"cells":"0.7 cells","run":"B","cycle":36,"dRn":0.0019},{"cells":"0.7 cells","run":"B","cycle":37,"dRn":0.0036},{"cells":"0.7 cells","run":"B","cycle":38,"dRn":0.007},{"cells":"0.7 cells","run":"B","cycle":39,"dRn":0.0123},{"cells":"0.7 cells","run":"B","cycle":40,"dRn":0.019},{"cells":"0.7 cells","run":"B","cycle":41,"dRn":0.0263},{"cells":"0.7 cells","run":"B","cycle":42,"dRn":0.033},{"cells":"0.7 cells","run":"B","cycle":43,"dRn":0.0388},{"cells":"0.7 cells","run":"B","cycle":44,"dRn":0.0439},{"cells":"0.7 cells","run":"B","cycle":45,"dRn":0.0443},
{"cells":"negative","run":"A","cycle":15,"dRn":0.0005},{"cells":"negative","run":"A","cycle":16,"dRn":0.0005},{"cells":"negative","run":"A","cycle":17,"dRn":0.0005},{"cells":"negative","run":"A","cycle":18,"dRn":0.0005},{"cells":"negative","run":"A","cycle":19,"dRn":0.0005},{"cells":"negative","run":"A","cycle":20,"dRn":0.0005},{"cells":"negative","run":"A","cycle":21,"dRn":0.0008},{"cells":"negative","run":"A","cycle":22,"dRn":0.0012},{"cells":"negative","run":"A","cycle":23,"dRn":0.001},{"cells":"negative","run":"A","cycle":24,"dRn":0.0012},{"cells":"negative","run":"A","cycle":25,"dRn":0.0015},{"cells":"negative","run":"A","cycle":26,"dRn":0.0008},{"cells":"negative","run":"A","cycle":27,"dRn":0.001},{"cells":"negative","run":"A","cycle":28,"dRn":0.0008},{"cells":"negative","run":"A","cycle":29,"dRn":0.0006},{"cells":"negative","run":"A","cycle":30,"dRn":0.0005},{"cells":"negative","run":"A","cycle":31,"dRn":0.0008},{"cells":"negative","run":"A","cycle":32,"dRn":0.0008},{"cells":"negative","run":"A","cycle":33,"dRn":0.0007},{"cells":"negative","run":"A","cycle":34,"dRn":0.0007},{"cells":"negative","run":"A","cycle":35,"dRn":0.0007},{"cells":"negative","run":"A","cycle":36,"dRn":0.0008},{"cells":"negative","run":"A","cycle":37,"dRn":0.0005},{"cells":"negative","run":"A","cycle":38,"dRn":0.0007},{"cells":"negative","run":"A","cycle":39,"dRn":0},{"cells":"negative","run":"A","cycle":40,"dRn":-0.0002},{"cells":"negative","run":"A","cycle":41,"dRn":-0.0003},{"cells":"negative","run":"A","cycle":42,"dRn":-0.0005},{"cells":"negative","run":"A","cycle":43,"dRn":-0.0002},{"cells":"negative","run":"A","cycle":44,"dRn":-0.0008},{"cells":"negative","run":"A","cycle":45,"dRn":-0.0024},
{"cells":"negative","run":"B","cycle":15,"dRn":0.0005},{"cells":"negative","run":"B","cycle":16,"dRn":0.0005},{"cells":"negative","run":"B","cycle":17,"dRn":0.0005},{"cells":"negative","run":"B","cycle":18,"dRn":0.0005},{"cells":"negative","run":"B","cycle":19,"dRn":0.0005},{"cells":"negative","run":"B","cycle":20,"dRn":0.0005},{"cells":"negative","run":"B","cycle":21,"dRn":0.0009},{"cells":"negative","run":"B","cycle":22,"dRn":0.0016},{"cells":"negative","run":"B","cycle":23,"dRn":0.0013},{"cells":"negative","run":"B","cycle":24,"dRn":0.0014},{"cells":"negative","run":"B","cycle":25,"dRn":0.0019},{"cells":"negative","run":"B","cycle":26,"dRn":0.0012},{"cells":"negative","run":"B","cycle":27,"dRn":0.0014},{"cells":"negative","run":"B","cycle":28,"dRn":0.0012},{"cells":"negative","run":"B","cycle":29,"dRn":0.0012},{"cells":"negative","run":"B","cycle":30,"dRn":0.0012},{"cells":"negative","run":"B","cycle":31,"dRn":0.0012},{"cells":"negative","run":"B","cycle":32,"dRn":0.001},{"cells":"negative","run":"B","cycle":33,"dRn":0.001},{"cells":"negative","run":"B","cycle":34,"dRn":0.0008},{"cells":"negative","run":"B","cycle":35,"dRn":0.0008},{"cells":"negative","run":"B","cycle":36,"dRn":0.0005},{"cells":"negative","run":"B","cycle":37,"dRn":-0.0002},{"cells":"negative","run":"B","cycle":38,"dRn":0.0003},{"cells":"negative","run":"B","cycle":39,"dRn":0.0001},{"cells":"negative","run":"B","cycle":40,"dRn":-0.0002},{"cells":"negative","run":"B","cycle":41,"dRn":-0.0004},{"cells":"negative","run":"B","cycle":42,"dRn":-0.0005},{"cells":"negative","run":"B","cycle":43,"dRn":-0.0004},{"cells":"negative","run":"B","cycle":44,"dRn":-0.0009},{"cells":"negative","run":"B","cycle":45,"dRn":-0.0017}
]
},
"concat":[
{
"width":736,"height":413,
"data":{"name":"acanthamoeba"},
"layer":[
{"mark":{"type":"line","strokeWidth":1,"color":"#333"},
"encoding":{
"x":{"field":"cycle","type":"quantitative","scale":{"domain":[15,45],"nice":false,"zero":false},"axis":{"values":[15,20,25,30,35,40,45],"title":"cycle"}},
"y":{"field":"dRn","type":"quantitative","scale":{"domain":[-0.01,0.14],"nice":false,"zero":false},"axis":{"values":[-0.01,0.01,0.03,0.05,0.07,0.09,0.11,0.13],"format":".2f","labelExpr":"replace(datum.label,'−','-')","title":"fluorescence (dRn)"}},
"detail":{"field":"cells"},
"strokeDash":{"field":"run","type":"nominal","scale":{"domain":["A","B"],"range":[[1,0],[4,2]]},"legend":null}
}},
{"mark":{"type":"point","filled":true,"stroke":"black","strokeWidth":1,"opacity":1},
"encoding":{
"x":{"field":"cycle","type":"quantitative"},
"y":{"field":"dRn","type":"quantitative"},
"shape":{"field":"cells","type":"nominal","scale":{"domain":["1660 cells","830 cells","415 cells","104 cells","26 cells","13 cells","2 cells","0.8 cell","negative"],"range":["M-1,0A1,1,0,1,1,1,0A1,1,0,1,1,-1,0Z","M-0.85,-0.85L0.85,-0.85L0.85,0.85L-0.85,0.85Z","M0,-0.65L0.65,0.45L-0.65,0.45Z","M0,-1.1L1,0L0,1.1L-1,0Z","M-1,0A1,1,0,1,1,1,0A1,1,0,1,1,-1,0Z","M-0.85,-0.85L0.85,-0.85L0.85,0.85L-0.85,0.85Z","M0,-1.05L1.05,0.75L-1.05,0.75Z","M0,-1.1L1,0L0,1.1L-1,0Z","M0,-1L0,1M-0.87,-0.5L0.87,0.5M-0.87,0.5L0.87,-0.5"]},"legend":null},
"fill":{"field":"cells","type":"nominal","scale":{"domain":["1660 cells","830 cells","415 cells","104 cells","26 cells","13 cells","2 cells","0.8 cell","negative"],"range":["black","black","black","black","white","white","white","white","white"]},"legend":null},
"size":{"field":"cells","type":"nominal","sort":["1660 cells","830 cells","415 cells","104 cells","26 cells","13 cells","2 cells","0.8 cell","negative"],"scale":{"range":[100,100]},
"legend":{"title":null,"orient":"none","legendX":36,"legendY":18,"strokeColor":"black","fillColor":"white","padding":8,"rowPadding":13.7,"labelFontSize":20,"labelFont":"Liberation Sans","labelColor":"#111","symbolOffset":15,"labelOffset":8,"symbolStrokeColor":"black","symbolStrokeWidth":1,"symbolOpacity":1,
"symbolType":{"expr":"['M-2.5,0L2.5,0M-1,0A1,1,0,1,1,1,0A1,1,0,1,1,-1,0Z','M-2.5,0L2.5,0M-0.85,-0.85L0.85,-0.85L0.85,0.85L-0.85,0.85Z','M-2.5,0L2.5,0M0,-0.65L0.65,0.45L-0.65,0.45Z','M-2.5,0L2.5,0M0,-1.1L1,0L0,1.1L-1,0Z','M-2.5,0L2.5,0M-1,0A1,1,0,1,1,1,0A1,1,0,1,1,-1,0Z','M-2.5,0L2.5,0M-0.85,-0.85L0.85,-0.85L0.85,0.85L-0.85,0.85Z','M-2.5,0L2.5,0M0,-1.05L1.05,0.75L-1.05,0.75Z','M-2.5,0L2.5,0M0,-1.1L1,0L0,1.1L-1,0Z','M-2.5,0L2.5,0M0,-1L0,1M-0.87,-0.5L0.87,0.5M-0.87,0.5L0.87,-0.5'][indexof(['1660 cells','830 cells','415 cells','104 cells','26 cells','13 cells','2 cells','0.8 cell','negative'],datum.value)]"},
"symbolFillColor":{"expr":"indexof(['1660 cells','830 cells','415 cells','104 cells'],datum.value) >= 0 ? 'black' : 'white'"}}}
}},
{"mark":{"type":"text","fontSize":27,"fontWeight":"bold","fontStyle":"italic","font":"Liberation Sans","fill":"#111","align":"center","baseline":"middle"},
"encoding":{"x":{"datum":28.3,"type":"quantitative"},"y":{"datum":0.1293,"type":"quantitative"},"text":{"value":"Acanthamoeba"}}}
]
},
{
"columns":1,
"align":"none",
"spacing":7,
"resolve":{"scale":{"shape":"independent","fill":"independent","size":"independent"},"legend":{"shape":"independent","fill":"independent","size":"independent"}},
"concat":[
{
"width":729,"height":421,
"data":{"name":"balamuthia"},
"layer":[
{"mark":{"type":"line","strokeWidth":1,"color":"#333"},
"encoding":{
"x":{"field":"cycle","type":"quantitative","scale":{"domain":[15,45],"nice":false,"zero":false},"axis":{"values":[15,20,25,30,35,40,45],"title":"cycle"}},
"y":{"field":"dRn","type":"quantitative","scale":{"domain":[-0.02,0.35],"nice":false,"zero":false},"axis":{"values":[-0.02,0.03,0.08,0.13,0.18,0.23,0.28,0.33],"format":".2f","labelExpr":"replace(datum.label,'−','-')","title":"fluorescence (dRn)","titlePadding":5}},
"detail":{"field":"cells"},
"strokeDash":{"field":"run","type":"nominal","scale":{"domain":["A","B"],"range":[[1,0],[4,2]]},"legend":null}
}},
{"mark":{"type":"point","filled":true,"stroke":"black","strokeWidth":1,"opacity":1},
"encoding":{
"x":{"field":"cycle","type":"quantitative"},
"y":{"field":"dRn","type":"quantitative"},
"shape":{"field":"cells","type":"nominal","scale":{"domain":["544 cells","68 cells","17 cells","9 cells","2 cells","0.5 cell","0.25 cell","negative"],"range":["M-1,0A1,1,0,1,1,1,0A1,1,0,1,1,-1,0Z","M-0.85,-0.85L0.85,-0.85L0.85,0.85L-0.85,0.85Z","M0,-1.05L1.05,0.75L-1.05,0.75Z","M0,-1.1L1,0L0,1.1L-1,0Z","M-1,0A1,1,0,1,1,1,0A1,1,0,1,1,-1,0Z","M-0.85,-0.85L0.85,-0.85L0.85,0.85L-0.85,0.85Z","M0,-1.05L1.05,0.75L-1.05,0.75Z","M0,-1.1L1,0L0,1.1L-1,0Z"]},"legend":null},
"fill":{"field":"cells","type":"nominal","scale":{"domain":["544 cells","68 cells","17 cells","9 cells","2 cells","0.5 cell","0.25 cell","negative"],"range":["black","black","black","black","white","white","white","white"]},"legend":null},
"size":{"field":"cells","type":"nominal","sort":["544 cells","68 cells","17 cells","9 cells","2 cells","0.5 cell","0.25 cell","negative"],"scale":{"range":[121,121]},
"legend":{"title":null,"orient":"none","legendX":70,"legendY":87,"strokeColor":"black","fillColor":"white","padding":7,"rowPadding":14.1,"labelFontSize":20,"labelFont":"Liberation Sans","labelColor":"#111","symbolOffset":11,"labelOffset":8,"symbolStrokeColor":"black","symbolStrokeWidth":1,"symbolOpacity":1,
"symbolType":{"expr":"['M-2,0L2,0M-1,0A1,1,0,1,1,1,0A1,1,0,1,1,-1,0Z','M-2,0L2,0M-0.85,-0.85L0.85,-0.85L0.85,0.85L-0.85,0.85Z','M-2,0L2,0M0,-1.05L1.05,0.75L-1.05,0.75Z','M-2,0L2,0M0,-1.1L1,0L0,1.1L-1,0Z','M-2,0L2,0M-1,0A1,1,0,1,1,1,0A1,1,0,1,1,-1,0Z','M-2,0L2,0M-0.85,-0.85L0.85,-0.85L0.85,0.85L-0.85,0.85Z','M-2,0L2,0M0,-1.05L1.05,0.75L-1.05,0.75Z','M-2,0L2,0M0,-1.1L1,0L0,1.1L-1,0Z'][indexof(['544 cells','68 cells','17 cells','9 cells','2 cells','0.5 cell','0.25 cell','negative'],datum.value)]"},
"symbolFillColor":{"expr":"indexof(['544 cells','68 cells','17 cells','9 cells'],datum.value) >= 0 ? 'black' : 'white'"}}}
}},
{"mark":{"type":"text","fontSize":27,"fontWeight":"bold","fontStyle":"italic","font":"Liberation Sans","fill":"#111","align":"center","baseline":"middle"},
"encoding":{"x":{"datum":28.9,"type":"quantitative"},"y":{"datum":0.3122,"type":"quantitative"},"text":{"value":"Balamuthia mandrillaris"}}}
]
},
{
"width":738,"height":415,
"data":{"name":"naegleria"},
"layer":[
{"mark":{"type":"line","strokeWidth":1,"color":"#333"},
"encoding":{
"x":{"field":"cycle","type":"quantitative","scale":{"domain":[15,45],"nice":false,"zero":false},"axis":{"values":[15,20,25,30,35,40,45],"title":"cycle"}},
"y":{"field":"dRn","type":"quantitative","scale":{"domain":[-0.004,0.056],"nice":false,"zero":false},"axis":{"values":[-0.004,0.006,0.016,0.026,0.036,0.046,0.056],"format":".3f","labelExpr":"replace(datum.label,'−','-')","title":"fluorescence (dRn)","labelFontSize":17}},
"detail":{"field":"cells"},
"strokeDash":{"field":"run","type":"nominal","scale":{"domain":["A","B"],"range":[[1,0],[4,2]]},"legend":null}
}},
{"mark":{"type":"point","filled":true,"stroke":"black","strokeWidth":1,"opacity":1},
"encoding":{
"x":{"field":"cycle","type":"quantitative"},
"y":{"field":"dRn","type":"quantitative"},
"shape":{"field":"cells","type":"nominal","scale":{"domain":["335 cells","84 cells","10 cells","5 cells","0.7 cells","negative"],"range":["M-1,0A1,1,0,1,1,1,0A1,1,0,1,1,-1,0Z","M-0.85,-0.85L0.85,-0.85L0.85,0.85L-0.85,0.85Z","M0,-1.05L1.05,0.75L-1.05,0.75Z","M0,-1.1L1,0L0,1.1L-1,0Z","M-1,0A1,1,0,1,1,1,0A1,1,0,1,1,-1,0Z","M-0.85,-0.85L0.85,-0.85L0.85,0.85L-0.85,0.85Z"]},"legend":null},
"fill":{"field":"cells","type":"nominal","scale":{"domain":["335 cells","84 cells","10 cells","5 cells","0.7 cells","negative"],"range":["black","black","black","black","white","white"]},"legend":null},
"size":{"field":"cells","type":"nominal","sort":["335 cells","84 cells","10 cells","5 cells","0.7 cells","negative"],"scale":{"range":[144,144]},
"legend":{"title":null,"orient":"none","legendX":84,"legendY":111,"strokeColor":"black","fillColor":"white","padding":8,"rowPadding":16.7,"labelFontSize":20,"labelFont":"Liberation Sans","labelColor":"#111","symbolOffset":17,"labelOffset":12,"symbolStrokeColor":"black","symbolStrokeWidth":1,"symbolOpacity":1,
"symbolType":{"expr":"['M-2,0L2,0M-1,0A1,1,0,1,1,1,0A1,1,0,1,1,-1,0Z','M-2,0L2,0M-0.85,-0.85L0.85,-0.85L0.85,0.85L-0.85,0.85Z','M-2,0L2,0M0,-1.05L1.05,0.75L-1.05,0.75Z','M-2,0L2,0M0,-1.1L1,0L0,1.1L-1,0Z','M-2,0L2,0M-1,0A1,1,0,1,1,1,0A1,1,0,1,1,-1,0Z','M-2,0L2,0M-0.85,-0.85L0.85,-0.85L0.85,0.85L-0.85,0.85Z'][indexof(['335 cells','84 cells','10 cells','5 cells','0.7 cells','negative'],datum.value)]"},
"symbolFillColor":{"expr":"indexof(['335 cells','84 cells','10 cells','5 cells'],datum.value) >= 0 ? 'black' : 'white'"}}}
}},
{"mark":{"type":"text","fontSize":27,"fontWeight":"bold","fontStyle":"italic","font":"Liberation Sans","fill":"#111","align":"center","baseline":"middle"},
"encoding":{"x":{"datum":29.8,"type":"quantitative"},"y":{"datum":0.0465,"type":"quantitative"},"text":{"value":"Naegleria fowleri"}}}
]
}
]
}
]
}
